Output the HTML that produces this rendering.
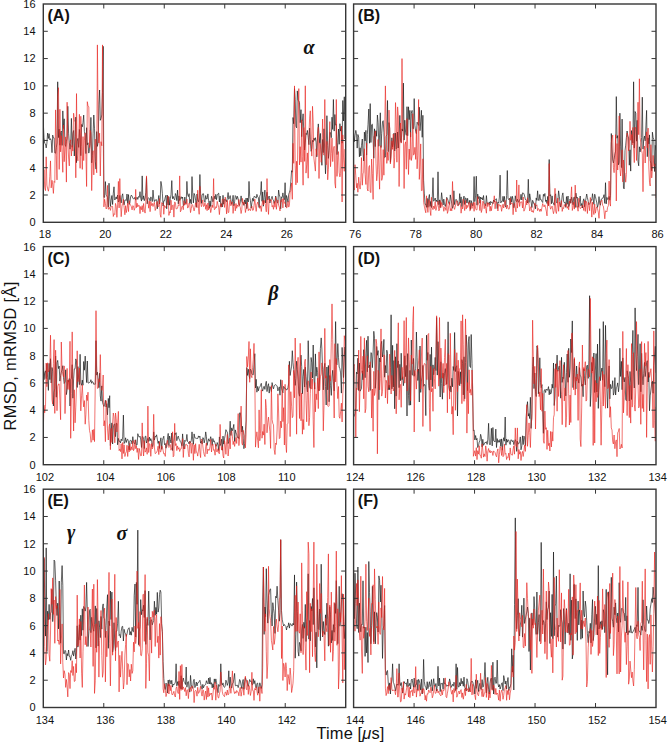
<!DOCTYPE html>
<html><head><meta charset="utf-8"><style>
html,body{margin:0;padding:0;background:#fff;}
body{width:668px;height:743px;overflow:hidden;}
svg{display:block;}
.tl{font-family:"Liberation Sans",sans-serif;font-size:11px;fill:#111;}
.pl{font-family:"Liberation Sans",sans-serif;font-size:16px;font-weight:bold;fill:#111;}
.gk{font-family:"Liberation Serif",serif;font-size:20px;font-weight:bold;font-style:italic;fill:#111;}
.al{font-family:"Liberation Sans",sans-serif;font-size:16.4px;fill:#111;}
.xl{letter-spacing:0.15px;}
.yl{letter-spacing:0.35px;}
</style></head><body>
<svg width="668" height="743" viewBox="0 0 668 743">
<clipPath id="cA"><rect x="43.3" y="4.0" width="302.4" height="218.3"/></clipPath>
<polyline clip-path="url(#cA)" points="43.3,122.7 44.0,137.8 44.7,143.3 45.5,143.9 46.2,147.9 46.9,143.2 47.6,133.1 48.4,138.5 49.1,133.7 49.8,139.9 50.5,138.7 51.2,140.3 52.0,152.7 52.7,135.1 53.4,137.8 54.1,137.9 54.8,152.9 55.6,153.2 56.3,147.6 57.0,143.0 57.7,81.8 58.5,137.6 59.2,129.1 59.9,145.2 60.6,132.3 61.3,131.0 62.1,145.4 62.8,110.9 63.5,128.5 64.2,118.8 65.0,144.9 65.7,146.4 66.4,141.4 67.1,138.4 67.8,106.3 68.6,133.2 69.3,142.7 70.0,149.2 70.7,143.7 71.4,118.4 72.2,147.3 72.9,133.3 73.6,130.5 74.3,156.0 75.1,136.3 75.8,117.1 76.5,162.7 77.2,141.1 77.9,138.4 78.7,147.4 79.4,129.4 80.1,137.8 80.8,155.7 81.6,124.4 82.3,126.8 83.0,122.6 83.7,115.1 84.4,131.5 85.2,135.2 85.9,153.6 86.6,127.7 87.3,144.8 88.0,142.8 88.8,153.1 89.5,149.4 90.2,143.8 90.9,117.4 91.7,162.9 92.4,155.6 93.1,133.4 93.8,115.0 94.5,128.2 95.3,161.2 96.0,169.1 96.7,131.6 97.4,146.4 98.2,141.7 98.9,104.2 99.6,90.0 100.3,120.3 101.0,118.6 101.8,114.9 102.5,92.2 103.2,46.3 103.9,197.4 104.6,197.3 105.4,181.6 106.1,194.5 106.8,195.8 107.5,197.4 108.3,207.1 109.0,183.2 109.7,196.2 110.4,206.5 111.1,200.2 111.9,195.5 112.6,204.5 113.3,193.2 114.0,186.8 114.8,200.0 115.5,198.2 116.2,196.9 116.9,199.0 117.6,195.0 118.4,202.0 119.1,201.1 119.8,195.4 120.5,199.3 121.2,202.9 122.0,195.8 122.7,193.8 123.4,201.2 124.1,204.8 124.9,200.0 125.6,200.0 126.3,200.6 127.0,194.0 127.7,203.4 128.5,194.6 129.2,204.4 129.9,202.5 130.6,197.0 131.3,195.1 132.1,196.1 132.8,198.1 133.5,198.9 134.2,198.9 135.0,197.2 135.7,200.1 136.4,198.4 137.1,197.2 137.8,199.4 138.6,196.5 139.3,197.3 140.0,191.7 140.7,198.2 141.5,201.1 142.2,175.9 142.9,199.5 143.6,195.9 144.3,200.7 145.1,198.0 145.8,192.3 146.5,177.3 147.2,203.8 147.9,198.5 148.7,197.9 149.4,198.5 150.1,201.1 150.8,196.9 151.6,198.4 152.3,201.5 153.0,190.1 153.7,198.1 154.4,201.6 155.2,199.8 155.9,200.3 156.6,199.7 157.3,208.8 158.1,201.3 158.8,195.5 159.5,204.0 160.2,199.7 160.9,181.4 161.7,186.0 162.4,193.7 163.1,206.0 163.8,200.8 164.5,200.8 165.3,197.0 166.0,195.2 166.7,208.8 167.4,195.2 168.2,205.0 168.9,196.8 169.6,205.2 170.3,198.8 171.0,194.8 171.8,180.6 172.5,198.7 173.2,196.4 173.9,198.9 174.7,199.8 175.4,193.5 176.1,195.4 176.8,200.6 177.5,190.1 178.3,203.9 179.0,195.9 179.7,200.5 180.4,198.9 181.1,196.7 181.9,198.6 182.6,197.0 183.3,205.4 184.0,205.3 184.8,197.1 185.5,203.2 186.2,203.4 186.9,181.4 187.6,194.5 188.4,196.6 189.1,193.7 189.8,203.1 190.5,199.4 191.3,203.9 192.0,176.6 192.7,193.3 193.4,202.9 194.1,193.4 194.9,195.6 195.6,200.1 196.3,207.1 197.0,194.0 197.7,199.8 198.5,201.8 199.2,197.9 199.9,174.5 200.6,193.7 201.4,203.4 202.1,195.1 202.8,193.7 203.5,193.8 204.2,200.1 205.0,202.3 205.7,195.5 206.4,199.0 207.1,199.0 207.9,193.9 208.6,200.5 209.3,208.3 210.0,200.9 210.7,206.6 211.5,196.3 212.2,198.2 212.9,201.8 213.6,199.5 214.3,196.2 215.1,199.1 215.8,194.3 216.5,199.7 217.2,195.4 218.0,193.7 218.7,193.2 219.4,202.0 220.1,196.0 220.8,206.7 221.6,203.6 222.3,207.0 223.0,195.3 223.7,204.2 224.5,199.5 225.2,200.2 225.9,199.6 226.6,201.7 227.3,198.5 228.1,192.5 228.8,199.3 229.5,197.4 230.2,195.6 230.9,200.2 231.7,204.3 232.4,201.6 233.1,195.3 233.8,205.8 234.6,201.8 235.3,195.6 236.0,196.4 236.7,199.4 237.4,196.3 238.2,198.8 238.9,204.0 239.6,205.5 240.3,201.9 241.1,195.9 241.8,201.6 242.5,202.9 243.2,202.4 243.9,205.4 244.7,199.9 245.4,204.0 246.1,198.0 246.8,208.6 247.5,198.2 248.3,201.9 249.0,181.4 249.7,196.6 250.4,200.5 251.2,208.1 251.9,202.8 252.6,198.3 253.3,201.2 254.0,196.4 254.8,196.6 255.5,196.9 256.2,198.2 256.9,194.3 257.7,196.9 258.4,197.7 259.1,207.5 259.8,196.0 260.5,194.4 261.3,181.5 262.0,201.3 262.7,191.9 263.4,206.2 264.1,197.6 264.9,190.1 265.6,203.0 266.3,196.8 267.0,192.2 267.8,199.9 268.5,197.3 269.2,196.0 269.9,203.0 270.6,199.8 271.4,198.3 272.1,196.3 272.8,199.6 273.5,200.2 274.2,203.4 275.0,200.8 275.7,196.0 276.4,199.1 277.1,202.7 277.9,202.7 278.6,190.1 279.3,195.0 280.0,197.0 280.7,208.8 281.5,197.0 282.2,197.6 282.9,192.9 283.6,197.8 284.4,199.7 285.1,182.7 285.8,207.0 286.5,195.5 287.2,198.2 288.0,202.2 288.7,194.3 289.4,192.4 290.1,189.9 290.8,181.8 291.6,170.7 292.3,172.2 293.0,117.5 293.7,123.8 294.5,88.6 295.2,99.6 295.9,126.2 296.6,127.8 297.3,90.9 298.1,100.2 298.8,100.9 299.5,102.6 300.2,122.7 301.0,109.7 301.7,136.7 302.4,121.3 303.1,113.8 303.8,132.2 304.6,150.0 305.3,142.1 306.0,133.3 306.7,134.5 307.4,130.4 308.2,137.2 308.9,144.7 309.6,128.1 310.3,139.7 311.1,151.3 311.8,148.6 312.5,140.4 313.2,141.9 313.9,138.0 314.7,140.4 315.4,137.7 316.1,142.2 316.8,156.9 317.6,133.8 318.3,123.9 319.0,133.6 319.7,142.9 320.4,133.4 321.2,153.1 321.9,165.3 322.6,139.5 323.3,152.6 324.0,128.8 324.8,154.6 325.5,173.8 326.2,154.1 326.9,115.7 327.7,145.4 328.4,158.4 329.1,150.4 329.8,132.3 330.5,132.7 331.3,137.7 332.0,117.2 332.7,129.4 333.4,99.5 334.2,131.1 334.9,114.5 335.6,125.2 336.3,124.4 337.0,154.6 337.8,142.4 338.5,129.0 339.2,144.3 339.9,123.7 340.6,131.1 341.4,126.2 342.1,143.2 342.8,100.5 343.5,121.0 344.3,96.8 345.0,139.0 345.7,99.8" fill="none" stroke="#111" stroke-width="0.65" stroke-linejoin="round"/>
<polyline clip-path="url(#cA)" points="43.3,185.8 44.0,169.5 44.7,187.5 45.5,190.6 46.2,156.8 46.9,185.1 47.6,188.7 48.4,191.2 49.1,186.5 49.8,176.5 50.5,160.9 51.2,187.9 52.0,180.3 52.7,184.9 53.4,193.4 54.1,181.4 54.8,182.4 55.6,109.9 56.3,155.8 57.0,179.9 57.7,95.4 58.5,87.7 59.2,169.4 59.9,109.3 60.6,151.9 61.3,135.7 62.1,152.6 62.8,172.3 63.5,124.9 64.2,161.7 65.0,147.0 65.7,136.9 66.4,182.1 67.1,102.2 67.8,140.1 68.6,158.0 69.3,165.9 70.0,142.9 70.7,139.8 71.4,156.0 72.2,145.4 72.9,151.1 73.6,113.2 74.3,119.4 75.1,122.5 75.8,177.8 76.5,93.6 77.2,154.9 77.9,160.8 78.7,139.4 79.4,114.3 80.1,168.3 80.8,116.3 81.6,146.4 82.3,169.4 83.0,136.6 83.7,160.6 84.4,140.2 85.2,132.9 85.9,153.7 86.6,186.5 87.3,101.7 88.0,106.0 88.8,106.8 89.5,147.6 90.2,130.4 90.9,133.0 91.7,190.6 92.4,160.4 93.1,150.7 93.8,174.9 94.5,149.9 95.3,139.1 96.0,161.0 96.7,172.8 97.4,44.9 98.2,125.3 98.9,143.0 99.6,133.2 100.3,176.0 101.0,141.7 101.8,145.8 102.5,44.9 103.2,128.5 103.9,206.9 104.6,199.3 105.4,203.4 106.1,209.0 106.8,208.2 107.5,185.4 108.3,209.2 109.0,208.9 109.7,207.4 110.4,210.4 111.1,206.7 111.9,206.2 112.6,206.3 113.3,216.5 114.0,213.7 114.8,214.5 115.5,203.4 116.2,206.1 116.9,217.3 117.6,204.9 118.4,181.4 119.1,207.9 119.8,178.6 120.5,201.9 121.2,216.7 122.0,206.2 122.7,203.4 123.4,199.3 124.1,207.2 124.9,214.8 125.6,205.7 126.3,212.6 127.0,208.4 127.7,203.2 128.5,211.6 129.2,200.7 129.9,204.0 130.6,205.2 131.3,206.5 132.1,209.9 132.8,205.5 133.5,206.2 134.2,210.3 135.0,207.9 135.7,189.4 136.4,207.7 137.1,203.2 137.8,206.9 138.6,204.9 139.3,205.6 140.0,213.6 140.7,206.5 141.5,209.7 142.2,205.6 142.9,211.9 143.6,203.5 144.3,210.0 145.1,213.1 145.8,202.9 146.5,175.9 147.2,200.5 147.9,200.8 148.7,208.2 149.4,201.1 150.1,211.7 150.8,201.4 151.6,205.6 152.3,203.4 153.0,206.5 153.7,204.1 154.4,202.3 155.2,210.5 155.9,208.7 156.6,202.7 157.3,201.4 158.1,206.9 158.8,205.7 159.5,198.6 160.2,214.3 160.9,217.3 161.7,202.6 162.4,203.6 163.1,203.0 163.8,214.3 164.5,205.5 165.3,207.3 166.0,207.2 166.7,204.5 167.4,202.2 168.2,196.0 168.9,215.4 169.6,211.7 170.3,212.8 171.0,200.2 171.8,209.9 172.5,205.5 173.2,204.8 173.9,217.1 174.7,201.9 175.4,202.9 176.1,208.9 176.8,208.7 177.5,208.3 178.3,204.8 179.0,205.6 179.7,175.9 180.4,211.8 181.1,210.4 181.9,206.4 182.6,206.0 183.3,209.7 184.0,200.7 184.8,205.1 185.5,203.1 186.2,204.3 186.9,199.1 187.6,208.1 188.4,207.1 189.1,203.0 189.8,204.0 190.5,212.6 191.3,208.6 192.0,204.4 192.7,205.2 193.4,208.1 194.1,210.9 194.9,207.4 195.6,202.9 196.3,202.9 197.0,207.7 197.7,190.2 198.5,208.3 199.2,214.3 199.9,186.3 200.6,202.4 201.4,206.7 202.1,204.3 202.8,199.9 203.5,206.5 204.2,206.1 205.0,202.8 205.7,209.3 206.4,204.7 207.1,210.7 207.9,203.0 208.6,209.9 209.3,206.2 210.0,206.0 210.7,212.6 211.5,208.6 212.2,205.0 212.9,207.6 213.6,178.6 214.3,209.6 215.1,209.1 215.8,206.7 216.5,207.7 217.2,201.4 218.0,204.7 218.7,207.6 219.4,214.6 220.1,206.1 220.8,203.7 221.6,207.2 222.3,199.2 223.0,199.0 223.7,201.6 224.5,207.4 225.2,197.1 225.9,203.3 226.6,213.9 227.3,200.4 228.1,212.6 228.8,212.3 229.5,202.5 230.2,200.1 230.9,205.8 231.7,202.2 232.4,201.9 233.1,213.4 233.8,205.3 234.6,203.8 235.3,210.9 236.0,203.5 236.7,208.3 237.4,205.1 238.2,206.5 238.9,199.5 239.6,205.6 240.3,207.4 241.1,213.5 241.8,209.5 242.5,198.4 243.2,204.6 243.9,202.2 244.7,202.6 245.4,212.5 246.1,208.5 246.8,208.2 247.5,202.3 248.3,210.7 249.0,208.9 249.7,209.2 250.4,210.7 251.2,207.5 251.9,206.2 252.6,210.4 253.3,210.1 254.0,205.9 254.8,199.1 255.5,205.7 256.2,211.4 256.9,204.5 257.7,202.1 258.4,204.8 259.1,205.2 259.8,208.4 260.5,205.8 261.3,211.5 262.0,204.7 262.7,200.5 263.4,205.0 264.1,200.4 264.9,203.1 265.6,205.7 266.3,211.8 267.0,178.6 267.8,204.9 268.5,214.4 269.2,199.1 269.9,200.9 270.6,200.0 271.4,199.4 272.1,206.8 272.8,205.5 273.5,209.3 274.2,201.5 275.0,207.2 275.7,197.1 276.4,209.3 277.1,202.6 277.9,199.9 278.6,205.1 279.3,207.3 280.0,211.0 280.7,200.6 281.5,201.5 282.2,198.7 282.9,207.9 283.6,198.6 284.4,203.4 285.1,202.5 285.8,204.0 286.5,208.1 287.2,207.0 288.0,201.4 288.7,207.1 289.4,205.5 290.1,192.9 290.8,190.3 291.6,182.9 292.3,199.3 293.0,143.3 293.7,163.3 294.5,85.9 295.2,165.6 295.9,184.9 296.6,161.2 297.3,182.7 298.1,115.9 298.8,88.6 299.5,164.9 300.2,146.7 301.0,162.1 301.7,119.9 302.4,156.8 303.1,185.2 303.8,127.6 304.6,161.4 305.3,85.8 306.0,173.1 306.7,164.8 307.4,152.9 308.2,178.2 308.9,136.9 309.6,118.1 310.3,110.8 311.1,141.5 311.8,156.1 312.5,106.3 313.2,122.1 313.9,158.2 314.7,164.9 315.4,171.1 316.1,148.8 316.8,155.4 317.6,134.8 318.3,127.3 319.0,178.5 319.7,142.9 320.4,144.8 321.2,162.3 321.9,150.2 322.6,119.1 323.3,153.6 324.0,155.2 324.8,99.5 325.5,146.0 326.2,164.8 326.9,141.4 327.7,179.8 328.4,169.6 329.1,145.4 329.8,121.6 330.5,166.7 331.3,153.3 332.0,138.1 332.7,161.6 333.4,148.7 334.2,146.3 334.9,183.1 335.6,188.1 336.3,99.5 337.0,176.4 337.8,155.7 338.5,151.6 339.2,172.1 339.9,176.9 340.6,173.4 341.4,126.1 342.1,202.0 342.8,134.9 343.5,157.1 344.3,171.3 345.0,149.2 345.7,159.1" fill="none" stroke="#e8231f" stroke-opacity="0.9" stroke-width="0.7" stroke-linejoin="round"/>
<clipPath id="cB"><rect x="353.6" y="4.0" width="302.4" height="218.3"/></clipPath>
<polyline clip-path="url(#cB)" points="353.6,132.9 354.3,141.7 355.0,135.7 355.8,130.4 356.5,133.7 357.2,148.1 357.9,134.5 358.7,137.1 359.4,156.8 360.1,147.8 360.8,155.9 361.5,145.4 362.3,139.0 363.0,153.1 363.7,161.0 364.4,132.1 365.1,140.9 365.9,130.4 366.6,155.1 367.3,134.4 368.0,124.7 368.8,109.0 369.5,143.2 370.2,103.6 370.9,142.5 371.6,124.8 372.4,124.2 373.1,139.1 373.8,158.2 374.5,128.8 375.3,146.6 376.0,130.6 376.7,136.3 377.4,115.0 378.1,122.6 378.9,146.3 379.6,135.0 380.3,112.8 381.0,147.5 381.7,133.6 382.5,121.8 383.2,120.7 383.9,132.3 384.6,157.7 385.4,157.0 386.1,136.6 386.8,134.4 387.5,100.5 388.2,151.7 389.0,122.6 389.7,128.4 390.4,162.3 391.1,151.2 391.9,137.8 392.6,146.9 393.3,142.5 394.0,133.1 394.7,151.0 395.5,133.1 396.2,148.8 396.9,147.6 397.6,132.0 398.3,148.0 399.1,135.9 399.8,115.4 400.5,140.0 401.2,142.4 402.0,128.9 402.7,131.1 403.4,83.1 404.1,140.1 404.8,120.2 405.6,132.5 406.3,135.3 407.0,106.7 407.7,135.8 408.5,106.8 409.2,119.7 409.9,110.4 410.6,137.1 411.3,113.4 412.1,110.4 412.8,128.6 413.5,128.7 414.2,98.6 414.9,125.4 415.7,131.6 416.4,133.7 417.1,122.2 417.8,123.6 418.6,125.4 419.3,107.2 420.0,130.7 420.7,121.9 421.4,110.3 422.2,137.3 422.9,115.3 423.6,180.2 424.3,193.1 425.1,204.4 425.8,204.1 426.5,207.3 427.2,198.4 427.9,207.3 428.7,198.2 429.4,194.5 430.1,206.4 430.8,201.4 431.5,207.5 432.3,197.1 433.0,177.7 433.7,201.2 434.4,199.9 435.2,198.0 435.9,201.5 436.6,200.1 437.3,202.2 438.0,171.8 438.8,204.7 439.5,199.9 440.2,207.6 440.9,202.0 441.6,192.7 442.4,199.8 443.1,205.0 443.8,199.1 444.5,203.9 445.3,206.5 446.0,203.0 446.7,197.3 447.4,198.6 448.1,200.5 448.9,203.7 449.6,204.3 450.3,194.9 451.0,199.2 451.8,203.8 452.5,208.3 453.2,205.4 453.9,190.8 454.6,204.6 455.4,200.4 456.1,199.3 456.8,200.7 457.5,201.2 458.2,205.4 459.0,204.2 459.7,193.6 460.4,203.1 461.1,196.9 461.9,206.7 462.6,201.2 463.3,199.1 464.0,196.1 464.7,204.5 465.5,197.8 466.2,198.6 466.9,203.0 467.6,198.3 468.4,203.6 469.1,203.2 469.8,200.2 470.5,209.4 471.2,200.6 472.0,204.0 472.7,205.8 473.4,201.8 474.1,176.5 474.8,201.7 475.6,195.2 476.3,176.2 477.0,205.2 477.7,194.1 478.5,198.6 479.2,196.5 479.9,203.3 480.6,197.0 481.3,199.1 482.1,197.6 482.8,200.0 483.5,195.5 484.2,202.6 485.0,203.9 485.7,205.8 486.4,195.6 487.1,203.0 487.8,204.2 488.6,203.8 489.3,201.9 490.0,205.0 490.7,201.3 491.4,202.6 492.2,202.3 492.9,203.8 493.6,200.0 494.3,201.9 495.1,199.7 495.8,199.2 496.5,198.8 497.2,208.6 497.9,202.2 498.7,203.2 499.4,197.1 500.1,175.1 500.8,202.9 501.6,201.3 502.3,201.4 503.0,196.3 503.7,201.8 504.4,196.4 505.2,205.8 505.9,207.1 506.6,195.4 507.3,170.5 508.0,198.2 508.8,199.7 509.5,198.3 510.2,204.8 510.9,196.5 511.7,202.2 512.4,196.3 513.1,199.8 513.8,207.8 514.5,205.1 515.3,195.8 516.0,200.7 516.7,201.7 517.4,199.2 518.2,201.8 518.9,202.2 519.6,199.7 520.3,199.6 521.0,194.3 521.8,200.0 522.5,192.9 523.2,193.2 523.9,193.5 524.6,196.0 525.4,199.6 526.1,199.6 526.8,200.7 527.5,203.0 528.3,179.3 529.0,202.6 529.7,193.8 530.4,198.1 531.1,201.9 531.9,207.5 532.6,200.3 533.3,201.7 534.0,204.3 534.8,204.5 535.5,208.8 536.2,197.9 536.9,200.4 537.6,190.8 538.4,200.2 539.1,200.7 539.8,194.5 540.5,199.6 541.2,199.5 542.0,201.6 542.7,202.5 543.4,194.3 544.1,196.3 544.9,193.5 545.6,201.5 546.3,200.0 547.0,203.5 547.7,196.4 548.5,205.5 549.2,159.5 549.9,195.9 550.6,194.7 551.4,203.8 552.1,195.9 552.8,202.9 553.5,203.1 554.2,205.2 555.0,195.7 555.7,193.8 556.4,202.4 557.1,203.1 557.8,201.4 558.6,190.8 559.3,196.2 560.0,202.2 560.7,207.1 561.5,202.7 562.2,195.5 562.9,192.9 563.6,201.2 564.3,202.8 565.1,202.1 565.8,207.4 566.5,196.6 567.2,204.3 568.0,196.0 568.7,206.7 569.4,205.0 570.1,199.0 570.8,203.1 571.6,197.1 572.3,200.1 573.0,204.7 573.7,197.7 574.4,196.9 575.2,207.5 575.9,193.1 576.6,198.2 577.3,197.2 578.1,207.3 578.8,202.9 579.5,201.5 580.2,196.0 580.9,205.8 581.7,203.5 582.4,208.0 583.1,201.1 583.8,198.8 584.5,206.7 585.3,202.4 586.0,198.2 586.7,194.0 587.4,197.6 588.2,201.3 588.9,204.7 589.6,203.8 590.3,202.7 591.0,199.6 591.8,200.3 592.5,193.7 593.2,199.0 593.9,204.3 594.7,194.2 595.4,196.5 596.1,199.7 596.8,202.9 597.5,207.4 598.3,204.1 599.0,196.6 599.7,203.2 600.4,205.2 601.1,199.4 601.9,199.2 602.6,197.8 603.3,197.6 604.0,194.7 604.8,203.4 605.5,182.7 606.2,203.9 606.9,197.4 607.6,199.4 608.4,199.2 609.1,196.4 609.8,200.2 610.5,195.8 611.3,133.5 612.0,148.0 612.7,160.0 613.4,163.0 614.1,159.3 614.9,154.0 615.6,151.1 616.3,96.6 617.0,138.2 617.7,135.6 618.5,164.8 619.2,162.3 619.9,113.2 620.6,146.9 621.4,167.6 622.1,119.1 622.8,159.9 623.5,188.2 624.2,188.9 625.0,150.8 625.7,145.2 626.4,137.4 627.1,131.0 627.9,136.1 628.6,137.9 629.3,165.2 630.0,149.8 630.7,171.1 631.5,130.6 632.2,135.6 632.9,143.0 633.6,81.8 634.3,148.1 635.1,111.5 635.8,113.3 636.5,141.2 637.2,120.3 638.0,161.2 638.7,165.8 639.4,146.8 640.1,151.9 640.8,147.8 641.6,137.5 642.3,97.2 643.0,149.1 643.7,139.7 644.5,136.1 645.2,140.9 645.9,125.9 646.6,110.4 647.3,156.7 648.1,137.9 648.8,143.9 649.5,134.9 650.2,160.5 650.9,163.5 651.7,170.8 652.4,132.2 653.1,137.4 653.8,139.3 654.6,171.5 655.3,145.3 656.0,150.3" fill="none" stroke="#111" stroke-width="0.65" stroke-linejoin="round"/>
<polyline clip-path="url(#cB)" points="353.6,183.9 354.3,190.1 355.0,164.7 355.8,175.8 356.5,187.8 357.2,183.3 357.9,192.2 358.7,177.2 359.4,185.2 360.1,189.1 360.8,180.5 361.5,157.6 362.3,185.2 363.0,173.8 363.7,172.3 364.4,148.7 365.1,174.6 365.9,184.5 366.6,143.0 367.3,188.9 368.0,191.0 368.8,167.3 369.5,165.5 370.2,192.0 370.9,192.7 371.6,159.0 372.4,173.7 373.1,199.4 373.8,136.7 374.5,135.9 375.3,131.0 376.0,163.4 376.7,180.8 377.4,174.2 378.1,139.5 378.9,169.3 379.6,189.2 380.3,147.4 381.0,145.6 381.7,180.4 382.5,177.4 383.2,149.6 383.9,175.2 384.6,136.4 385.4,85.9 386.1,124.2 386.8,163.4 387.5,152.3 388.2,160.4 389.0,110.1 389.7,130.3 390.4,163.9 391.1,157.2 391.9,140.9 392.6,149.4 393.3,134.0 394.0,168.1 394.7,157.3 395.5,102.6 396.2,119.2 396.9,162.2 397.6,106.9 398.3,115.8 399.1,186.5 399.8,139.1 400.5,123.0 401.2,143.1 402.0,58.6 402.7,118.0 403.4,137.3 404.1,188.5 404.8,145.0 405.6,141.8 406.3,169.2 407.0,118.6 407.7,146.1 408.5,174.5 409.2,149.0 409.9,159.6 410.6,132.3 411.3,160.5 412.1,155.8 412.8,113.7 413.5,155.0 414.2,154.4 414.9,147.3 415.7,159.4 416.4,129.6 417.1,168.8 417.8,155.2 418.6,99.5 419.3,179.4 420.0,166.2 420.7,143.9 421.4,190.6 422.2,190.4 422.9,158.8 423.6,202.4 424.3,206.1 425.1,210.0 425.8,212.8 426.5,195.8 427.2,204.7 427.9,212.4 428.7,199.5 429.4,200.8 430.1,210.6 430.8,215.5 431.5,197.3 432.3,207.9 433.0,209.7 433.7,206.0 434.4,208.7 435.2,201.7 435.9,210.4 436.6,207.4 437.3,204.5 438.0,201.1 438.8,210.9 439.5,210.0 440.2,200.5 440.9,207.6 441.6,202.5 442.4,206.0 443.1,206.3 443.8,211.3 444.5,207.4 445.3,207.7 446.0,210.4 446.7,198.6 447.4,213.4 448.1,211.0 448.9,205.4 449.6,202.0 450.3,210.8 451.0,208.5 451.8,210.9 452.5,181.5 453.2,201.0 453.9,207.4 454.6,209.4 455.4,206.0 456.1,202.8 456.8,200.6 457.5,205.6 458.2,205.9 459.0,204.5 459.7,202.2 460.4,204.4 461.1,213.2 461.9,206.7 462.6,208.9 463.3,199.1 464.0,206.6 464.7,210.6 465.5,200.5 466.2,209.1 466.9,205.0 467.6,207.5 468.4,205.1 469.1,202.1 469.8,210.9 470.5,210.3 471.2,203.0 472.0,208.5 472.7,206.2 473.4,202.4 474.1,211.3 474.8,202.3 475.6,208.6 476.3,209.9 477.0,209.8 477.7,196.6 478.5,204.3 479.2,204.7 479.9,210.6 480.6,200.2 481.3,212.5 482.1,209.4 482.8,201.2 483.5,201.9 484.2,208.7 485.0,203.9 485.7,208.4 486.4,213.2 487.1,202.4 487.8,206.6 488.6,203.2 489.3,203.4 490.0,211.2 490.7,206.3 491.4,210.7 492.2,205.2 492.9,203.3 493.6,202.3 494.3,195.8 495.1,208.8 495.8,201.3 496.5,202.9 497.2,203.4 497.9,211.0 498.7,204.1 499.4,205.0 500.1,206.3 500.8,205.2 501.6,211.3 502.3,207.2 503.0,204.2 503.7,208.0 504.4,203.8 505.2,200.4 505.9,205.8 506.6,208.8 507.3,205.0 508.0,207.9 508.8,209.3 509.5,208.4 510.2,198.3 510.9,203.7 511.7,203.6 512.4,202.8 513.1,214.7 513.8,204.9 514.5,203.5 515.3,208.1 516.0,211.9 516.7,180.0 517.4,208.1 518.2,201.9 518.9,184.9 519.6,206.5 520.3,202.1 521.0,202.2 521.8,201.8 522.5,208.0 523.2,197.0 523.9,211.2 524.6,209.7 525.4,207.1 526.1,200.7 526.8,205.0 527.5,197.8 528.3,203.2 529.0,203.3 529.7,211.0 530.4,208.3 531.1,206.6 531.9,212.0 532.6,210.7 533.3,212.5 534.0,209.1 534.8,202.9 535.5,204.7 536.2,205.8 536.9,204.8 537.6,210.7 538.4,208.5 539.1,209.3 539.8,211.5 540.5,209.0 541.2,211.3 542.0,207.3 542.7,203.5 543.4,205.6 544.1,206.9 544.9,204.8 545.6,208.1 546.3,211.1 547.0,215.9 547.7,201.3 548.5,205.7 549.2,163.6 549.9,205.7 550.6,209.2 551.4,207.5 552.1,206.1 552.8,210.3 553.5,213.7 554.2,210.2 555.0,188.3 555.7,211.3 556.4,213.5 557.1,207.2 557.8,198.0 558.6,211.3 559.3,201.9 560.0,206.3 560.7,205.1 561.5,200.6 562.2,211.4 562.9,207.6 563.6,208.6 564.3,204.5 565.1,206.6 565.8,206.0 566.5,203.4 567.2,208.3 568.0,206.4 568.7,209.8 569.4,201.0 570.1,203.4 570.8,199.0 571.6,186.8 572.3,210.5 573.0,207.4 573.7,202.2 574.4,209.1 575.2,185.1 575.9,198.2 576.6,207.2 577.3,206.6 578.1,211.2 578.8,198.2 579.5,204.8 580.2,208.5 580.9,208.2 581.7,207.2 582.4,205.0 583.1,206.4 583.8,210.5 584.5,200.4 585.3,211.4 586.0,201.0 586.7,203.5 587.4,213.5 588.2,202.4 588.9,205.4 589.6,210.7 590.3,197.5 591.0,201.1 591.8,217.1 592.5,202.2 593.2,210.1 593.9,214.6 594.7,204.0 595.4,213.2 596.1,208.8 596.8,206.8 597.5,208.9 598.3,212.1 599.0,218.3 599.7,208.1 600.4,201.7 601.1,201.5 601.9,200.1 602.6,205.3 603.3,206.0 604.0,210.8 604.8,218.8 605.5,210.9 606.2,211.2 606.9,211.9 607.6,207.3 608.4,205.6 609.1,181.1 609.8,203.4 610.5,206.1 611.3,143.0 612.0,138.6 612.7,135.1 613.4,167.3 614.1,172.7 614.9,159.5 615.6,134.7 616.3,201.0 617.0,143.6 617.7,170.0 618.5,146.2 619.2,115.9 619.9,167.6 620.6,176.0 621.4,167.3 622.1,149.9 622.8,181.9 623.5,160.0 624.2,172.0 625.0,173.2 625.7,182.2 626.4,174.4 627.1,133.0 627.9,136.9 628.6,150.8 629.3,146.9 630.0,121.3 630.7,140.3 631.5,134.6 632.2,144.9 632.9,127.5 633.6,148.8 634.3,162.6 635.1,127.0 635.8,129.2 636.5,160.5 637.2,138.2 638.0,102.2 638.7,134.7 639.4,78.8 640.1,137.6 640.8,142.5 641.6,150.6 642.3,153.6 643.0,191.7 643.7,151.0 644.5,146.1 645.2,163.0 645.9,140.8 646.6,131.8 647.3,147.8 648.1,128.1 648.8,166.9 649.5,182.3 650.2,186.0 650.9,144.7 651.7,177.9 652.4,169.2 653.1,155.4 653.8,166.3 654.6,165.8 655.3,163.7 656.0,198.0" fill="none" stroke="#e8231f" stroke-opacity="0.9" stroke-width="0.7" stroke-linejoin="round"/>
<clipPath id="cC"><rect x="43.3" y="246.6" width="302.4" height="218.1"/></clipPath>
<polyline clip-path="url(#cC)" points="43.3,355.6 44.0,379.7 44.7,372.8 45.5,370.8 46.2,378.7 46.9,363.7 47.6,377.6 48.4,390.4 49.1,363.3 49.8,379.6 50.5,358.7 51.2,383.0 52.0,367.5 52.7,371.1 53.4,406.0 54.1,392.6 54.8,388.3 55.6,356.0 56.3,397.2 57.0,362.8 57.7,360.4 58.5,368.6 59.2,366.1 59.9,381.1 60.6,375.5 61.3,372.3 62.1,369.6 62.8,365.7 63.5,377.8 64.2,383.5 65.0,381.9 65.7,369.8 66.4,394.6 67.1,389.9 67.8,380.2 68.6,381.8 69.3,378.5 70.0,406.0 70.7,379.3 71.4,378.3 72.2,364.7 72.9,398.2 73.6,378.9 74.3,368.9 75.1,368.7 75.8,358.9 76.5,360.9 77.2,387.5 77.9,366.6 78.7,379.3 79.4,384.7 80.1,354.3 80.8,382.7 81.6,385.3 82.3,380.1 83.0,385.2 83.7,361.5 84.4,370.2 85.2,356.1 85.9,369.7 86.6,382.5 87.3,361.0 88.0,383.0 88.8,383.0 89.5,382.5 90.2,382.1 90.9,379.7 91.7,383.3 92.4,381.5 93.1,382.3 93.8,384.4 94.5,384.1 95.3,384.2 96.0,340.7 96.7,375.1 97.4,372.2 98.2,380.0 98.9,387.6 99.6,373.2 100.3,396.0 101.0,401.1 101.8,385.9 102.5,402.4 103.2,404.5 103.9,406.5 104.6,404.8 105.4,400.3 106.1,407.0 106.8,403.7 107.5,414.9 108.3,398.4 109.0,407.7 109.7,395.7 110.4,445.6 111.1,431.4 111.9,422.9 112.6,444.0 113.3,427.9 114.0,424.3 114.8,424.2 115.5,436.7 116.2,423.1 116.9,423.8 117.6,444.8 118.4,438.4 119.1,441.4 119.8,441.1 120.5,442.9 121.2,439.1 122.0,440.8 122.7,436.9 123.4,415.1 124.1,443.5 124.9,442.0 125.6,437.8 126.3,442.5 127.0,439.8 127.7,439.2 128.5,441.9 129.2,449.9 129.9,440.7 130.6,440.4 131.3,440.7 132.1,444.0 132.8,436.7 133.5,441.7 134.2,443.5 135.0,443.9 135.7,439.8 136.4,445.3 137.1,444.9 137.8,433.7 138.6,436.3 139.3,437.2 140.0,436.1 140.7,439.0 141.5,447.5 142.2,436.7 142.9,436.6 143.6,439.4 144.3,448.5 145.1,436.5 145.8,436.1 146.5,443.0 147.2,440.7 147.9,438.3 148.7,441.5 149.4,437.1 150.1,440.9 150.8,438.6 151.6,440.9 152.3,446.7 153.0,444.9 153.7,431.9 154.4,440.1 155.2,436.3 155.9,436.9 156.6,434.8 157.3,439.1 158.1,443.4 158.8,441.1 159.5,448.4 160.2,441.9 160.9,437.8 161.7,449.3 162.4,440.4 163.1,438.1 163.8,436.2 164.5,444.7 165.3,443.6 166.0,448.2 166.7,445.0 167.4,439.2 168.2,433.4 168.9,445.5 169.6,436.0 170.3,439.6 171.0,443.0 171.8,433.0 172.5,450.5 173.2,441.4 173.9,440.4 174.7,433.2 175.4,434.4 176.1,432.7 176.8,440.7 177.5,437.5 178.3,436.1 179.0,439.3 179.7,439.8 180.4,441.9 181.1,442.7 181.9,445.8 182.6,433.9 183.3,442.9 184.0,449.0 184.8,440.2 185.5,441.3 186.2,440.5 186.9,434.4 187.6,441.6 188.4,442.2 189.1,444.0 189.8,441.3 190.5,442.8 191.3,440.4 192.0,431.9 192.7,439.7 193.4,444.4 194.1,433.9 194.9,437.9 195.6,438.1 196.3,438.5 197.0,438.1 197.7,438.6 198.5,435.9 199.2,437.4 199.9,436.1 200.6,443.1 201.4,441.2 202.1,443.9 202.8,437.6 203.5,438.1 204.2,442.9 205.0,439.0 205.7,431.9 206.4,436.5 207.1,445.4 207.9,441.5 208.6,438.8 209.3,441.3 210.0,439.7 210.7,436.7 211.5,440.0 212.2,445.3 212.9,438.5 213.6,441.6 214.3,440.8 215.1,443.3 215.8,446.4 216.5,445.9 217.2,442.5 218.0,445.2 218.7,450.5 219.4,436.9 220.1,445.6 220.8,443.9 221.6,439.2 222.3,450.3 223.0,436.1 223.7,444.1 224.5,438.7 225.2,435.1 225.9,429.7 226.6,431.2 227.3,432.0 228.1,443.6 228.8,441.4 229.5,432.2 230.2,421.2 230.9,435.5 231.7,427.9 232.4,430.7 233.1,428.3 233.8,424.4 234.6,441.5 235.3,429.9 236.0,433.1 236.7,434.0 237.4,437.4 238.2,437.0 238.9,438.6 239.6,412.9 240.3,412.8 241.1,419.0 241.8,431.9 242.5,426.3 243.2,438.2 243.9,448.7 244.7,443.6 245.4,430.9 246.1,421.0 246.8,367.6 247.5,375.4 248.3,369.2 249.0,375.4 249.7,378.6 250.4,369.1 251.2,370.5 251.9,373.9 252.6,374.5 253.3,374.8 254.0,364.9 254.8,353.7 255.5,388.0 256.2,379.3 256.9,392.2 257.7,386.4 258.4,390.8 259.1,387.8 259.8,387.0 260.5,385.3 261.3,383.3 262.0,389.0 262.7,391.1 263.4,387.9 264.1,386.3 264.9,389.4 265.6,384.1 266.3,381.3 267.0,391.6 267.8,386.0 268.5,383.7 269.2,393.1 269.9,386.6 270.6,388.0 271.4,391.6 272.1,382.6 272.8,386.6 273.5,388.8 274.2,385.7 275.0,385.0 275.7,384.6 276.4,385.3 277.1,385.9 277.9,390.9 278.6,388.6 279.3,386.9 280.0,395.2 280.7,379.7 281.5,388.5 282.2,390.5 282.9,392.8 283.6,386.4 284.4,387.2 285.1,389.1 285.8,388.6 286.5,390.0 287.2,389.6 288.0,387.6 288.7,383.0 289.4,361.3 290.1,375.5 290.8,371.0 291.6,366.2 292.3,350.7 293.0,362.7 293.7,369.3 294.5,375.8 295.2,385.4 295.9,378.5 296.6,361.2 297.3,369.3 298.1,379.1 298.8,393.2 299.5,396.2 300.2,367.6 301.0,355.1 301.7,366.7 302.4,393.8 303.1,376.5 303.8,369.4 304.6,387.0 305.3,367.2 306.0,376.4 306.7,385.8 307.4,391.9 308.2,340.7 308.9,367.0 309.6,386.6 310.3,388.5 311.1,357.5 311.8,362.8 312.5,377.9 313.2,345.0 313.9,377.7 314.7,389.1 315.4,353.9 316.1,376.2 316.8,367.2 317.6,372.7 318.3,388.3 319.0,391.0 319.7,376.3 320.4,348.4 321.2,337.9 321.9,349.2 322.6,369.5 323.3,389.9 324.0,368.6 324.8,363.3 325.5,386.7 326.2,405.0 326.9,367.0 327.7,389.9 328.4,365.5 329.1,401.8 329.8,375.5 330.5,385.4 331.3,395.4 332.0,377.0 332.7,370.3 333.4,381.7 334.2,390.9 334.9,369.6 335.6,321.6 336.3,363.9 337.0,364.7 337.8,343.6 338.5,357.7 339.2,367.1 339.9,368.7 340.6,372.9 341.4,393.1 342.1,347.4 342.8,364.0 343.5,377.6 344.3,355.6 345.0,347.0 345.7,363.9" fill="none" stroke="#111" stroke-width="0.65" stroke-linejoin="round"/>
<polyline clip-path="url(#cC)" points="43.3,429.0 44.0,405.2 44.7,412.8 45.5,406.6 46.2,363.0 46.9,386.7 47.6,362.8 48.4,371.9 49.1,370.4 49.8,368.3 50.5,335.2 51.2,373.3 52.0,399.8 52.7,404.1 53.4,363.6 54.1,339.6 54.8,413.4 55.6,350.2 56.3,372.6 57.0,410.7 57.7,386.4 58.5,384.0 59.2,383.9 59.9,400.5 60.6,419.7 61.3,342.0 62.1,371.8 62.8,373.7 63.5,376.8 64.2,365.9 65.0,413.6 65.7,394.0 66.4,384.7 67.1,368.4 67.8,389.3 68.6,380.3 69.3,389.8 70.0,341.3 70.7,438.3 71.4,393.6 72.2,331.9 72.9,387.3 73.6,431.0 74.3,389.8 75.1,422.8 75.8,407.2 76.5,387.6 77.2,350.8 77.9,381.7 78.7,376.6 79.4,368.0 80.1,388.2 80.8,410.9 81.6,395.2 82.3,384.8 83.0,398.9 83.7,406.9 84.4,400.6 85.2,424.2 85.9,414.3 86.6,395.0 87.3,400.6 88.0,392.2 88.8,420.4 89.5,430.6 90.2,433.6 90.9,442.4 91.7,441.7 92.4,429.9 93.1,440.1 93.8,429.4 94.5,441.6 95.3,380.7 96.0,310.7 96.7,366.2 97.4,388.4 98.2,388.1 98.9,378.8 99.6,382.0 100.3,354.6 101.0,386.5 101.8,390.4 102.5,387.4 103.2,375.0 103.9,425.9 104.6,420.7 105.4,441.7 106.1,400.6 106.8,407.8 107.5,428.9 108.3,440.0 109.0,426.8 109.7,423.9 110.4,449.7 111.1,428.4 111.9,442.5 112.6,423.4 113.3,413.0 114.0,416.9 114.8,442.8 115.5,413.0 116.2,418.3 116.9,432.0 117.6,422.9 118.4,411.4 119.1,450.6 119.8,449.1 120.5,451.6 121.2,443.7 122.0,458.9 122.7,442.5 123.4,453.5 124.1,444.8 124.9,456.5 125.6,453.3 126.3,451.8 127.0,445.2 127.7,456.5 128.5,446.2 129.2,451.9 129.9,443.3 130.6,450.5 131.3,446.8 132.1,449.8 132.8,440.8 133.5,450.7 134.2,449.1 135.0,439.9 135.7,448.7 136.4,445.9 137.1,452.4 137.8,448.1 138.6,459.5 139.3,448.5 140.0,452.0 140.7,455.9 141.5,455.5 142.2,422.9 142.9,447.1 143.6,456.0 144.3,440.7 145.1,452.2 145.8,450.7 146.5,447.9 147.2,454.3 147.9,406.1 148.7,452.5 149.4,443.6 150.1,444.6 150.8,456.3 151.6,443.5 152.3,448.9 153.0,446.7 153.7,414.3 154.4,447.1 155.2,453.6 155.9,453.2 156.6,452.3 157.3,450.7 158.1,446.2 158.8,454.6 159.5,441.7 160.2,451.9 160.9,451.7 161.7,445.8 162.4,447.0 163.1,450.6 163.8,454.0 164.5,453.6 165.3,456.4 166.0,443.8 166.7,444.0 167.4,440.4 168.2,446.7 168.9,447.5 169.6,445.5 170.3,444.6 171.0,450.2 171.8,447.4 172.5,431.8 173.2,456.8 173.9,455.5 174.7,423.4 175.4,445.6 176.1,443.6 176.8,450.6 177.5,445.9 178.3,449.2 179.0,447.6 179.7,451.5 180.4,449.1 181.1,449.0 181.9,443.8 182.6,438.7 183.3,457.4 184.0,446.6 184.8,449.0 185.5,444.6 186.2,444.1 186.9,445.4 187.6,445.3 188.4,453.4 189.1,456.9 189.8,441.3 190.5,443.5 191.3,453.4 192.0,443.1 192.7,446.0 193.4,460.3 194.1,444.9 194.9,453.6 195.6,443.7 196.3,452.2 197.0,452.4 197.7,456.1 198.5,450.0 199.2,444.3 199.9,452.1 200.6,457.6 201.4,439.1 202.1,440.5 202.8,445.8 203.5,451.5 204.2,454.6 205.0,456.6 205.7,446.5 206.4,443.0 207.1,453.9 207.9,449.0 208.6,450.3 209.3,450.2 210.0,446.7 210.7,439.4 211.5,452.0 212.2,445.1 212.9,444.0 213.6,450.3 214.3,449.7 215.1,455.2 215.8,444.1 216.5,451.5 217.2,452.0 218.0,448.7 218.7,453.0 219.4,453.8 220.1,424.4 220.8,442.2 221.6,450.0 222.3,446.6 223.0,455.8 223.7,458.0 224.5,440.6 225.2,444.3 225.9,454.3 226.6,441.8 227.3,434.5 228.1,456.0 228.8,448.6 229.5,438.1 230.2,448.9 230.9,432.5 231.7,430.8 232.4,436.2 233.1,444.6 233.8,441.3 234.6,446.4 235.3,442.0 236.0,437.5 236.7,443.5 237.4,430.6 238.2,413.6 238.9,445.6 239.6,437.2 240.3,432.2 241.1,406.1 241.8,442.9 242.5,445.1 243.2,430.3 243.9,434.3 244.7,435.5 245.4,447.9 246.1,434.2 246.8,356.5 247.5,366.9 248.3,358.1 249.0,341.5 249.7,382.3 250.4,348.8 251.2,375.9 251.9,377.7 252.6,367.3 253.3,359.2 254.0,343.4 254.8,375.8 255.5,447.1 256.2,437.9 256.9,431.8 257.7,440.7 258.4,447.8 259.1,409.9 259.8,440.8 260.5,433.6 261.3,389.7 262.0,438.2 262.7,431.5 263.4,435.1 264.1,424.2 264.9,444.5 265.6,399.3 266.3,407.4 267.0,432.8 267.8,422.3 268.5,417.1 269.2,425.0 269.9,431.5 270.6,448.4 271.4,385.6 272.1,419.6 272.8,423.4 273.5,424.8 274.2,449.5 275.0,454.5 275.7,443.1 276.4,444.5 277.1,430.0 277.9,393.8 278.6,412.0 279.3,438.6 280.0,437.9 280.7,421.1 281.5,427.8 282.2,380.2 282.9,421.6 283.6,407.7 284.4,445.0 285.1,384.3 285.8,443.4 286.5,452.5 287.2,424.1 288.0,423.2 288.7,364.8 289.4,379.5 290.1,436.6 290.8,391.7 291.6,406.2 292.3,417.7 293.0,416.1 293.7,370.4 294.5,397.8 295.2,338.0 295.9,378.4 296.6,434.2 297.3,366.9 298.1,357.3 298.8,390.2 299.5,418.5 300.2,343.3 301.0,420.8 301.7,393.0 302.4,434.2 303.1,419.5 303.8,429.6 304.6,361.6 305.3,359.2 306.0,400.3 306.7,421.8 307.4,392.5 308.2,380.8 308.9,425.7 309.6,417.3 310.3,393.4 311.1,372.0 311.8,389.1 312.5,378.9 313.2,419.4 313.9,447.5 314.7,382.6 315.4,411.9 316.1,393.9 316.8,399.7 317.6,378.1 318.3,408.6 319.0,351.9 319.7,390.2 320.4,376.7 321.2,374.0 321.9,362.9 322.6,380.1 323.3,430.8 324.0,405.4 324.8,328.4 325.5,378.2 326.2,375.8 326.9,378.4 327.7,405.7 328.4,406.5 329.1,405.8 329.8,359.6 330.5,381.2 331.3,342.7 332.0,303.9 332.7,339.6 333.4,378.6 334.2,418.0 334.9,343.7 335.6,381.9 336.3,358.6 337.0,385.2 337.8,398.6 338.5,386.5 339.2,416.7 339.9,418.3 340.6,411.4 341.4,403.1 342.1,422.0 342.8,393.4 343.5,382.8 344.3,335.7 345.0,340.9 345.7,392.2" fill="none" stroke="#e8231f" stroke-opacity="0.9" stroke-width="0.7" stroke-linejoin="round"/>
<clipPath id="cD"><rect x="353.6" y="246.6" width="302.4" height="218.1"/></clipPath>
<polyline clip-path="url(#cD)" points="353.6,417.0 354.3,415.7 355.0,413.9 355.8,407.6 356.5,372.2 357.2,373.9 357.9,358.2 358.7,390.5 359.4,363.1 360.1,391.2 360.8,389.8 361.5,388.7 362.3,370.9 363.0,379.8 363.7,349.7 364.4,365.0 365.1,377.7 365.9,353.9 366.6,340.3 367.3,371.8 368.0,336.2 368.8,367.7 369.5,365.0 370.2,390.5 370.9,352.5 371.6,353.2 372.4,367.7 373.1,353.0 373.8,331.3 374.5,338.4 375.3,388.3 376.0,377.8 376.7,346.5 377.4,355.3 378.1,350.6 378.9,399.7 379.6,358.0 380.3,362.0 381.0,344.7 381.7,341.3 382.5,357.0 383.2,351.5 383.9,339.4 384.6,377.2 385.4,365.5 386.1,373.0 386.8,350.2 387.5,353.3 388.2,389.9 389.0,385.2 389.7,389.8 390.4,367.7 391.1,314.8 391.9,388.9 392.6,345.3 393.3,387.0 394.0,360.6 394.7,408.8 395.5,356.8 396.2,396.1 396.9,343.7 397.6,367.6 398.3,360.9 399.1,387.7 399.8,364.3 400.5,380.7 401.2,353.2 402.0,379.7 402.7,376.8 403.4,385.7 404.1,378.2 404.8,355.8 405.6,376.7 406.3,365.4 407.0,416.0 407.7,353.6 408.5,395.4 409.2,405.3 409.9,370.4 410.6,405.1 411.3,340.0 412.1,374.4 412.8,375.3 413.5,358.4 414.2,376.3 414.9,371.2 415.7,368.3 416.4,332.0 417.1,357.7 417.8,380.5 418.6,369.0 419.3,402.0 420.0,346.0 420.7,392.4 421.4,381.1 422.2,374.9 422.9,365.4 423.6,386.3 424.3,384.5 425.1,384.8 425.8,415.6 426.5,335.2 427.2,360.3 427.9,352.5 428.7,385.6 429.4,390.2 430.1,354.4 430.8,379.9 431.5,347.1 432.3,386.6 433.0,364.9 433.7,374.8 434.4,369.5 435.2,357.4 435.9,370.6 436.6,317.5 437.3,375.1 438.0,341.7 438.8,360.9 439.5,374.0 440.2,397.0 440.9,361.8 441.6,383.5 442.4,399.2 443.1,373.1 443.8,386.0 444.5,373.5 445.3,368.6 446.0,377.5 446.7,384.1 447.4,376.0 448.1,321.8 448.9,387.3 449.6,390.9 450.3,385.9 451.0,392.1 451.8,378.2 452.5,386.8 453.2,366.5 453.9,370.5 454.6,332.5 455.4,371.6 456.1,367.2 456.8,365.7 457.5,416.0 458.2,371.3 459.0,378.5 459.7,385.7 460.4,371.8 461.1,383.8 461.9,359.6 462.6,363.4 463.3,394.9 464.0,356.8 464.7,398.8 465.5,362.4 466.2,335.0 466.9,347.3 467.6,390.7 468.4,341.8 469.1,336.5 469.8,366.2 470.5,367.5 471.2,334.5 472.0,363.6 472.7,396.9 473.4,430.7 474.1,430.0 474.8,439.9 475.6,435.5 476.3,439.9 477.0,438.4 477.7,447.5 478.5,445.7 479.2,442.0 479.9,441.0 480.6,434.3 481.3,436.9 482.1,446.9 482.8,439.3 483.5,445.3 484.2,444.0 485.0,442.3 485.7,442.6 486.4,441.7 487.1,444.4 487.8,439.5 488.6,423.3 489.3,443.2 490.0,444.9 490.7,442.2 491.4,428.3 492.2,445.9 492.9,427.5 493.6,440.8 494.3,441.1 495.1,442.0 495.8,429.1 496.5,447.5 497.2,438.6 497.9,442.5 498.7,440.5 499.4,442.2 500.1,439.3 500.8,446.4 501.6,438.9 502.3,450.2 503.0,441.6 503.7,437.7 504.4,441.2 505.2,417.0 505.9,445.2 506.6,439.0 507.3,442.2 508.0,439.8 508.8,440.2 509.5,443.3 510.2,444.5 510.9,439.8 511.7,440.1 512.4,441.7 513.1,440.5 513.8,444.6 514.5,442.2 515.3,439.7 516.0,441.4 516.7,451.4 517.4,441.2 518.2,444.2 518.9,443.4 519.6,441.8 520.3,436.9 521.0,449.8 521.8,445.8 522.5,435.8 523.2,444.6 523.9,436.1 524.6,437.3 525.4,445.6 526.1,417.8 526.8,408.7 527.5,401.7 528.3,416.1 529.0,413.5 529.7,418.6 530.4,397.3 531.1,428.4 531.9,413.6 532.6,366.4 533.3,357.0 534.0,388.6 534.8,373.0 535.5,391.8 536.2,396.6 536.9,345.9 537.6,348.3 538.4,393.8 539.1,382.9 539.8,357.8 540.5,382.5 541.2,387.7 542.0,384.6 542.7,408.9 543.4,433.3 544.1,390.9 544.9,389.5 545.6,392.5 546.3,389.0 547.0,389.9 547.7,390.2 548.5,386.6 549.2,394.8 549.9,389.4 550.6,394.1 551.4,392.8 552.1,384.2 552.8,388.1 553.5,363.0 554.2,405.5 555.0,396.9 555.7,363.9 556.4,369.2 557.1,355.1 557.8,371.3 558.6,367.8 559.3,366.0 560.0,376.2 560.7,398.2 561.5,357.3 562.2,382.4 562.9,377.2 563.6,378.5 564.3,362.3 565.1,380.0 565.8,395.9 566.5,372.7 567.2,354.0 568.0,382.3 568.7,348.3 569.4,377.3 570.1,368.1 570.8,339.0 571.6,352.6 572.3,320.9 573.0,387.6 573.7,372.2 574.4,359.0 575.2,379.7 575.9,388.9 576.6,366.0 577.3,377.9 578.1,379.2 578.8,383.1 579.5,367.6 580.2,375.9 580.9,376.4 581.7,386.2 582.4,384.2 583.1,396.7 583.8,368.8 584.5,378.3 585.3,384.9 586.0,375.5 586.7,366.0 587.4,365.1 588.2,378.4 588.9,360.3 589.6,295.7 590.3,406.5 591.0,393.2 591.8,362.4 592.5,371.0 593.2,362.9 593.9,353.0 594.7,392.5 595.4,370.1 596.1,353.6 596.8,392.0 597.5,344.1 598.3,408.4 599.0,380.8 599.7,328.7 600.4,380.7 601.1,372.5 601.9,368.0 602.6,380.1 603.3,321.6 604.0,374.3 604.8,386.7 605.5,325.4 606.2,361.8 606.9,388.8 607.6,408.1 608.4,382.1 609.1,365.9 609.8,398.9 610.5,384.4 611.3,388.5 612.0,388.1 612.7,380.7 613.4,395.1 614.1,392.4 614.9,377.6 615.6,395.0 616.3,387.6 617.0,386.4 617.7,382.9 618.5,391.8 619.2,385.0 619.9,348.2 620.6,376.5 621.4,361.4 622.1,389.7 622.8,357.9 623.5,379.0 624.2,382.0 625.0,377.4 625.7,399.5 626.4,400.7 627.1,370.8 627.9,375.2 628.6,378.3 629.3,401.0 630.0,371.5 630.7,382.2 631.5,399.5 632.2,354.7 632.9,330.4 633.6,372.9 634.3,388.0 635.1,307.9 635.8,354.8 636.5,370.6 637.2,356.3 638.0,334.4 638.7,384.7 639.4,372.5 640.1,343.7 640.8,391.8 641.6,353.3 642.3,375.0 643.0,384.8 643.7,373.7 644.5,362.4 645.2,376.6 645.9,370.7 646.6,362.7 647.3,360.7 648.1,382.0 648.8,372.3 649.5,410.8 650.2,395.9 650.9,390.0 651.7,383.4 652.4,381.2 653.1,393.3 653.8,365.7 654.6,355.6 655.3,346.3 656.0,372.8" fill="none" stroke="#111" stroke-width="0.65" stroke-linejoin="round"/>
<polyline clip-path="url(#cD)" points="353.6,366.4 354.3,364.4 355.0,386.5 355.8,437.4 356.5,388.3 357.2,389.5 357.9,378.7 358.7,350.1 359.4,411.7 360.1,384.7 360.8,336.4 361.5,369.4 362.3,373.5 363.0,356.2 363.7,398.8 364.4,337.9 365.1,412.8 365.9,408.5 366.6,371.1 367.3,355.8 368.0,386.3 368.8,391.9 369.5,367.2 370.2,361.8 370.9,370.9 371.6,418.0 372.4,389.0 373.1,431.3 373.8,371.3 374.5,395.5 375.3,391.4 376.0,339.2 376.7,343.9 377.4,453.8 378.1,370.4 378.9,373.1 379.6,389.9 380.3,378.5 381.0,328.9 381.7,396.1 382.5,391.5 383.2,373.3 383.9,354.8 384.6,356.3 385.4,398.0 386.1,380.2 386.8,383.1 387.5,403.6 388.2,375.5 389.0,387.7 389.7,354.1 390.4,366.5 391.1,394.0 391.9,375.4 392.6,385.0 393.3,390.9 394.0,387.8 394.7,350.4 395.5,386.2 396.2,413.8 396.9,393.9 397.6,357.0 398.3,322.8 399.1,399.8 399.8,385.0 400.5,384.4 401.2,407.3 402.0,367.3 402.7,378.5 403.4,370.4 404.1,320.7 404.8,383.1 405.6,357.3 406.3,317.5 407.0,390.9 407.7,390.0 408.5,337.9 409.2,359.3 409.9,373.8 410.6,400.7 411.3,355.0 412.1,364.1 412.8,321.7 413.5,306.6 414.2,432.0 414.9,370.7 415.7,375.9 416.4,389.1 417.1,369.6 417.8,371.3 418.6,360.9 419.3,349.9 420.0,369.5 420.7,389.0 421.4,357.0 422.2,338.1 422.9,426.5 423.6,366.8 424.3,363.6 425.1,363.9 425.8,364.7 426.5,379.4 427.2,379.6 427.9,334.7 428.7,333.5 429.4,407.2 430.1,431.3 430.8,366.3 431.5,391.8 432.3,388.4 433.0,411.3 433.7,368.5 434.4,378.6 435.2,388.9 435.9,354.7 436.6,315.8 437.3,340.1 438.0,347.7 438.8,386.2 439.5,317.5 440.2,378.3 440.9,348.1 441.6,362.7 442.4,378.2 443.1,363.4 443.8,392.7 444.5,357.4 445.3,339.3 446.0,385.1 446.7,363.4 447.4,412.8 448.1,353.7 448.9,355.2 449.6,399.1 450.3,333.3 451.0,374.6 451.8,414.1 452.5,406.5 453.2,434.7 453.9,383.2 454.6,349.5 455.4,410.3 456.1,379.5 456.8,352.7 457.5,391.8 458.2,360.2 459.0,385.1 459.7,368.7 460.4,369.3 461.1,320.9 461.9,403.7 462.6,314.8 463.3,344.2 464.0,401.3 464.7,375.4 465.5,318.9 466.2,350.8 466.9,433.1 467.6,382.5 468.4,413.7 469.1,369.8 469.8,392.8 470.5,389.4 471.2,395.2 472.0,370.0 472.7,387.3 473.4,456.3 474.1,453.4 474.8,450.7 475.6,456.1 476.3,447.7 477.0,459.6 477.7,450.7 478.5,454.1 479.2,445.7 479.9,455.2 480.6,455.3 481.3,458.2 482.1,443.9 482.8,449.8 483.5,457.1 484.2,453.9 485.0,456.5 485.7,445.9 486.4,450.6 487.1,461.2 487.8,451.5 488.6,448.5 489.3,452.4 490.0,450.4 490.7,452.9 491.4,451.5 492.2,451.5 492.9,455.5 493.6,450.9 494.3,451.7 495.1,452.6 495.8,455.4 496.5,456.8 497.2,451.4 497.9,448.9 498.7,462.8 499.4,454.7 500.1,446.6 500.8,448.5 501.6,455.5 502.3,446.6 503.0,456.7 503.7,455.8 504.4,444.1 505.2,454.3 505.9,453.4 506.6,459.5 507.3,456.8 508.0,457.5 508.8,453.0 509.5,460.3 510.2,447.9 510.9,454.0 511.7,455.0 512.4,455.2 513.1,449.2 513.8,445.8 514.5,454.2 515.3,427.9 516.0,445.5 516.7,446.7 517.4,427.9 518.2,458.8 518.9,449.5 519.6,454.2 520.3,451.6 521.0,460.5 521.8,453.6 522.5,451.4 523.2,456.5 523.9,451.2 524.6,445.2 525.4,451.4 526.1,433.3 526.8,404.7 527.5,446.3 528.3,435.3 529.0,422.9 529.7,432.4 530.4,447.5 531.1,424.5 531.9,418.4 532.6,320.2 533.3,359.3 534.0,383.9 534.8,366.3 535.5,429.0 536.2,396.6 536.9,355.9 537.6,345.3 538.4,363.1 539.1,396.6 539.8,391.9 540.5,409.9 541.2,368.6 542.0,411.3 542.7,393.4 543.4,440.4 544.1,443.3 544.9,411.1 545.6,429.3 546.3,427.7 547.0,449.4 547.7,430.2 548.5,445.6 549.2,443.2 549.9,451.0 550.6,431.4 551.4,447.0 552.1,431.8 552.8,441.1 553.5,417.6 554.2,414.8 555.0,368.7 555.7,387.4 556.4,363.6 557.1,411.2 557.8,370.0 558.6,396.5 559.3,383.9 560.0,360.6 560.7,385.4 561.5,394.4 562.2,424.7 562.9,384.6 563.6,364.7 564.3,400.9 565.1,387.9 565.8,427.2 566.5,417.2 567.2,375.2 568.0,350.5 568.7,393.5 569.4,425.0 570.1,395.1 570.8,422.5 571.6,333.8 572.3,332.9 573.0,378.0 573.7,389.8 574.4,357.6 575.2,395.1 575.9,377.1 576.6,380.8 577.3,374.0 578.1,420.4 578.8,366.6 579.5,361.9 580.2,439.2 580.9,446.6 581.7,407.1 582.4,345.0 583.1,385.7 583.8,367.5 584.5,370.9 585.3,361.7 586.0,401.1 586.7,399.9 587.4,375.9 588.2,369.4 588.9,370.4 589.6,376.9 590.3,298.4 591.0,355.6 591.8,373.2 592.5,356.8 593.2,445.4 593.9,358.3 594.7,443.0 595.4,380.4 596.1,401.8 596.8,383.0 597.5,397.4 598.3,393.5 599.0,381.0 599.7,376.7 600.4,404.9 601.1,445.2 601.9,404.5 602.6,371.2 603.3,406.0 604.0,374.4 604.8,394.9 605.5,408.3 606.2,353.8 606.9,340.1 607.6,388.7 608.4,387.5 609.1,359.6 609.8,417.3 610.5,406.7 611.3,427.9 612.0,430.0 612.7,441.8 613.4,444.0 614.1,435.0 614.9,448.7 615.6,441.9 616.3,439.9 617.0,456.7 617.7,432.8 618.5,431.2 619.2,428.5 619.9,449.0 620.6,447.8 621.4,444.3 622.1,448.0 622.8,331.4 623.5,412.9 624.2,397.2 625.0,383.9 625.7,376.8 626.4,348.5 627.1,415.6 627.9,364.7 628.6,385.5 629.3,417.6 630.0,385.4 630.7,423.1 631.5,343.6 632.2,407.1 632.9,361.1 633.6,352.7 634.3,404.4 635.1,411.1 635.8,386.0 636.5,321.6 637.2,364.1 638.0,384.7 638.7,407.9 639.4,406.1 640.1,369.1 640.8,424.3 641.6,341.6 642.3,408.4 643.0,394.4 643.7,411.8 644.5,343.4 645.2,366.2 645.9,352.6 646.6,437.4 647.3,387.2 648.1,341.4 648.8,370.8 649.5,377.3 650.2,373.3 650.9,368.7 651.7,381.8 652.4,393.7 653.1,427.8 653.8,330.9 654.6,420.8 655.3,441.2 656.0,406.8" fill="none" stroke="#e8231f" stroke-opacity="0.9" stroke-width="0.7" stroke-linejoin="round"/>
<clipPath id="cE"><rect x="43.3" y="489.2" width="302.4" height="218.3"/></clipPath>
<polyline clip-path="url(#cE)" points="43.3,609.8 44.0,558.4 44.7,595.1 45.5,636.1 46.2,547.9 46.9,651.6 47.6,611.2 48.4,619.9 49.1,604.4 49.8,619.4 50.5,613.4 51.2,612.0 52.0,589.4 52.7,621.6 53.4,611.6 54.1,560.1 54.8,561.6 55.6,580.2 56.3,604.6 57.0,615.5 57.7,603.2 58.5,628.9 59.2,581.0 59.9,618.5 60.6,643.2 61.3,582.8 62.1,565.6 62.8,585.5 63.5,653.4 64.2,654.0 65.0,650.3 65.7,651.0 66.4,660.0 67.1,653.6 67.8,655.8 68.6,650.0 69.3,656.4 70.0,656.7 70.7,660.3 71.4,655.4 72.2,654.5 72.9,650.7 73.6,656.1 74.3,652.4 75.1,648.3 75.8,659.0 76.5,652.0 77.2,625.8 77.9,647.1 78.7,636.0 79.4,624.7 80.1,640.1 80.8,615.2 81.6,635.7 82.3,608.8 83.0,630.2 83.7,606.5 84.4,608.0 85.2,611.1 85.9,607.0 86.6,582.4 87.3,610.2 88.0,646.5 88.8,631.1 89.5,610.5 90.2,609.3 90.9,632.7 91.7,617.3 92.4,624.0 93.1,628.8 93.8,631.2 94.5,624.7 95.3,605.9 96.0,647.9 96.7,608.5 97.4,621.9 98.2,646.1 98.9,620.8 99.6,627.2 100.3,637.6 101.0,616.5 101.8,629.1 102.5,606.8 103.2,603.9 103.9,618.3 104.6,618.8 105.4,637.5 106.1,625.6 106.8,607.0 107.5,594.7 108.3,648.3 109.0,621.1 109.7,625.7 110.4,591.0 111.1,619.5 111.9,592.1 112.6,652.1 113.3,648.4 114.0,622.7 114.8,644.0 115.5,650.8 116.2,630.9 116.9,631.2 117.6,623.2 118.4,601.3 119.1,635.5 119.8,634.5 120.5,637.8 121.2,631.2 122.0,626.5 122.7,626.4 123.4,641.0 124.1,629.3 124.9,632.9 125.6,633.8 126.3,636.4 127.0,633.8 127.7,630.1 128.5,628.3 129.2,627.7 129.9,634.9 130.6,631.6 131.3,635.2 132.1,627.3 132.8,631.3 133.5,631.8 134.2,595.3 135.0,584.0 135.7,637.0 136.4,582.4 137.1,604.3 137.8,530.1 138.6,644.7 139.3,631.2 140.0,626.4 140.7,599.6 141.5,614.7 142.2,609.7 142.9,611.0 143.6,605.2 144.3,617.5 145.1,590.6 145.8,644.4 146.5,626.3 147.2,618.5 147.9,625.4 148.7,591.1 149.4,619.5 150.1,639.9 150.8,620.8 151.6,619.7 152.3,624.8 153.0,622.6 153.7,620.5 154.4,601.2 155.2,615.3 155.9,607.4 156.6,614.2 157.3,592.4 158.1,612.1 158.8,608.0 159.5,594.4 160.2,590.2 160.9,592.1 161.7,623.6 162.4,631.7 163.1,661.4 163.8,678.4 164.5,686.8 165.3,689.5 166.0,683.1 166.7,684.3 167.4,693.0 168.2,680.0 168.9,686.1 169.6,679.9 170.3,680.5 171.0,684.1 171.8,680.3 172.5,687.1 173.2,684.0 173.9,684.8 174.7,683.6 175.4,682.1 176.1,663.8 176.8,685.8 177.5,681.7 178.3,685.5 179.0,681.1 179.7,687.3 180.4,688.6 181.1,675.7 181.9,689.0 182.6,681.1 183.3,678.0 184.0,681.5 184.8,682.5 185.5,684.5 186.2,667.0 186.9,687.2 187.6,682.2 188.4,681.5 189.1,689.1 189.8,692.1 190.5,675.4 191.3,684.8 192.0,688.1 192.7,688.1 193.4,681.2 194.1,679.3 194.9,687.6 195.6,685.4 196.3,682.0 197.0,686.0 197.7,682.9 198.5,682.6 199.2,681.4 199.9,680.3 200.6,683.6 201.4,686.4 202.1,689.1 202.8,684.4 203.5,687.8 204.2,685.7 205.0,684.9 205.7,684.5 206.4,680.7 207.1,682.9 207.9,683.8 208.6,678.1 209.3,684.0 210.0,677.4 210.7,684.2 211.5,682.7 212.2,687.9 212.9,683.8 213.6,687.5 214.3,678.9 215.1,683.4 215.8,678.9 216.5,682.3 217.2,687.8 218.0,692.7 218.7,684.5 219.4,686.2 220.1,685.7 220.8,663.8 221.6,683.7 222.3,685.1 223.0,682.9 223.7,686.6 224.5,687.4 225.2,685.9 225.9,680.2 226.6,681.8 227.3,685.4 228.1,682.5 228.8,670.8 229.5,687.9 230.2,677.1 230.9,685.4 231.7,688.1 232.4,683.7 233.1,683.3 233.8,679.2 234.6,673.4 235.3,685.6 236.0,686.0 236.7,685.2 237.4,685.2 238.2,687.6 238.9,684.4 239.6,679.5 240.3,680.7 241.1,685.2 241.8,688.6 242.5,681.6 243.2,679.5 243.9,689.3 244.7,682.1 245.4,677.6 246.1,680.0 246.8,681.7 247.5,684.2 248.3,686.3 249.0,682.8 249.7,679.5 250.4,681.4 251.2,681.0 251.9,684.4 252.6,684.9 253.3,678.8 254.0,683.7 254.8,680.6 255.5,685.8 256.2,687.9 256.9,683.5 257.7,683.1 258.4,693.2 259.1,687.3 259.8,682.8 260.5,685.1 261.3,688.6 262.0,684.4 262.7,599.0 263.4,567.0 264.1,634.4 264.9,607.0 265.6,616.7 266.3,568.7 267.0,600.1 267.8,623.1 268.5,595.3 269.2,592.4 269.9,589.4 270.6,588.9 271.4,614.1 272.1,626.0 272.8,602.7 273.5,608.6 274.2,613.6 275.0,633.4 275.7,596.3 276.4,597.9 277.1,586.2 277.9,600.3 278.6,610.2 279.3,621.2 280.0,612.6 280.7,539.7 281.5,610.7 282.2,619.3 282.9,622.9 283.6,626.0 284.4,624.5 285.1,625.6 285.8,626.3 286.5,630.0 287.2,626.5 288.0,626.6 288.7,622.8 289.4,628.1 290.1,623.7 290.8,623.9 291.6,625.7 292.3,625.8 293.0,623.3 293.7,625.0 294.5,574.9 295.2,658.2 295.9,634.8 296.6,582.1 297.3,611.6 298.1,651.4 298.8,656.1 299.5,642.4 300.2,644.2 301.0,650.8 301.7,629.9 302.4,624.4 303.1,638.4 303.8,622.3 304.6,628.3 305.3,604.4 306.0,641.5 306.7,621.6 307.4,617.5 308.2,573.8 308.9,639.1 309.6,620.5 310.3,640.8 311.1,606.4 311.8,610.9 312.5,598.5 313.2,624.6 313.9,587.8 314.7,628.2 315.4,646.9 316.1,632.2 316.8,667.9 317.6,599.7 318.3,628.8 319.0,629.6 319.7,609.0 320.4,640.7 321.2,564.2 321.9,611.0 322.6,636.9 323.3,621.5 324.0,631.2 324.8,634.6 325.5,614.8 326.2,625.4 326.9,603.2 327.7,619.3 328.4,646.2 329.1,616.5 329.8,606.7 330.5,614.2 331.3,643.0 332.0,630.4 332.7,640.5 333.4,624.6 334.2,632.2 334.9,603.4 335.6,613.4 336.3,580.6 337.0,610.3 337.8,643.7 338.5,623.9 339.2,586.3 339.9,626.2 340.6,617.9 341.4,603.0 342.1,593.7 342.8,598.7 343.5,621.7 344.3,638.6 345.0,628.8 345.7,609.1" fill="none" stroke="#111" stroke-width="0.65" stroke-linejoin="round"/>
<polyline clip-path="url(#cE)" points="43.3,616.9 44.0,557.2 44.7,646.4 45.5,664.9 46.2,659.1 46.9,630.5 47.6,625.2 48.4,613.8 49.1,654.4 49.8,661.2 50.5,633.0 51.2,588.6 52.0,604.3 52.7,577.9 53.4,614.4 54.1,600.0 54.8,643.3 55.6,596.6 56.3,608.4 57.0,605.7 57.7,641.0 58.5,640.0 59.2,644.5 59.9,589.5 60.6,663.9 61.3,640.9 62.1,623.9 62.8,662.8 63.5,678.0 64.2,670.7 65.0,674.4 65.7,687.4 66.4,679.4 67.1,686.1 67.8,696.9 68.6,672.6 69.3,674.3 70.0,688.6 70.7,670.6 71.4,672.5 72.2,660.7 72.9,675.5 73.6,666.4 74.3,681.5 75.1,681.0 75.8,663.6 76.5,672.7 77.2,595.1 77.9,646.1 78.7,642.5 79.4,618.9 80.1,658.0 80.8,621.5 81.6,673.2 82.3,687.4 83.0,651.5 83.7,624.7 84.4,585.0 85.2,644.8 85.9,636.6 86.6,646.5 87.3,633.2 88.0,607.0 88.8,624.9 89.5,630.1 90.2,630.7 90.9,647.0 91.7,620.3 92.4,589.0 93.1,666.4 93.8,584.2 94.5,693.4 95.3,680.6 96.0,623.8 96.7,652.3 97.4,579.6 98.2,625.2 98.9,677.1 99.6,640.3 100.3,629.9 101.0,610.5 101.8,655.4 102.5,677.3 103.2,672.1 103.9,615.2 104.6,608.1 105.4,681.9 106.1,631.0 106.8,656.8 107.5,637.0 108.3,620.2 109.0,572.4 109.7,643.4 110.4,685.9 111.1,641.4 111.9,599.1 112.6,655.2 113.3,630.0 114.0,627.9 114.8,574.3 115.5,660.8 116.2,617.5 116.9,647.4 117.6,642.1 118.4,641.0 119.1,691.9 119.8,655.3 120.5,677.1 121.2,663.1 122.0,651.3 122.7,669.7 123.4,689.0 124.1,682.4 124.9,655.1 125.6,644.6 126.3,634.3 127.0,684.7 127.7,663.5 128.5,664.5 129.2,676.9 129.9,669.6 130.6,681.0 131.3,664.2 132.1,673.4 132.8,670.7 133.5,642.2 134.2,651.9 135.0,626.0 135.7,643.6 136.4,636.9 137.1,571.1 137.8,628.4 138.6,622.5 139.3,646.3 140.0,611.6 140.7,655.3 141.5,655.7 142.2,648.8 142.9,594.5 143.6,594.3 144.3,641.4 145.1,574.6 145.8,688.4 146.5,663.8 147.2,617.0 147.9,652.3 148.7,656.1 149.4,680.9 150.1,624.2 150.8,617.0 151.6,653.1 152.3,611.3 153.0,617.2 153.7,612.9 154.4,610.3 155.2,646.5 155.9,618.4 156.6,614.6 157.3,642.6 158.1,636.2 158.8,658.1 159.5,623.6 160.2,655.1 160.9,616.7 161.7,626.4 162.4,632.8 163.1,688.7 163.8,692.8 164.5,683.8 165.3,689.6 166.0,696.6 166.7,693.9 167.4,689.8 168.2,683.6 168.9,694.0 169.6,684.5 170.3,690.7 171.0,685.5 171.8,694.1 172.5,695.0 173.2,693.1 173.9,691.3 174.7,695.9 175.4,697.0 176.1,688.1 176.8,686.7 177.5,691.7 178.3,693.6 179.0,671.5 179.7,699.4 180.4,665.7 181.1,690.4 181.9,664.4 182.6,689.7 183.3,686.9 184.0,688.7 184.8,691.5 185.5,687.6 186.2,695.8 186.9,690.4 187.6,689.7 188.4,698.6 189.1,689.0 189.8,689.3 190.5,687.4 191.3,691.3 192.0,685.9 192.7,687.0 193.4,688.6 194.1,702.6 194.9,691.1 195.6,690.3 196.3,691.3 197.0,696.2 197.7,687.3 198.5,693.4 199.2,692.2 199.9,689.8 200.6,686.2 201.4,693.2 202.1,696.1 202.8,689.7 203.5,690.5 204.2,700.1 205.0,694.3 205.7,691.0 206.4,699.5 207.1,686.1 207.9,697.1 208.6,687.8 209.3,696.2 210.0,693.3 210.7,694.5 211.5,693.0 212.2,700.1 212.9,694.7 213.6,687.6 214.3,689.3 215.1,682.1 215.8,700.2 216.5,685.0 217.2,690.9 218.0,697.5 218.7,698.0 219.4,693.9 220.1,691.0 220.8,672.0 221.6,684.6 222.3,691.9 223.0,694.6 223.7,695.7 224.5,696.7 225.2,692.0 225.9,692.3 226.6,695.3 227.3,690.0 228.1,694.9 228.8,693.9 229.5,686.7 230.2,686.5 230.9,693.3 231.7,683.5 232.4,670.9 233.1,686.0 233.8,690.7 234.6,693.6 235.3,691.7 236.0,693.2 236.7,690.5 237.4,691.9 238.2,692.2 238.9,695.8 239.6,689.5 240.3,687.3 241.1,696.2 241.8,691.5 242.5,687.4 243.2,687.6 243.9,695.2 244.7,680.4 245.4,676.2 246.1,688.2 246.8,689.8 247.5,680.4 248.3,694.4 249.0,685.5 249.7,689.2 250.4,695.5 251.2,691.3 251.9,672.3 252.6,690.4 253.3,690.6 254.0,700.4 254.8,688.5 255.5,690.0 256.2,686.7 256.9,691.2 257.7,695.2 258.4,688.3 259.1,686.9 259.8,701.2 260.5,686.6 261.3,688.8 262.0,693.5 262.7,667.3 263.4,567.0 264.1,602.4 264.9,631.3 265.6,613.8 266.3,651.8 267.0,678.6 267.8,662.9 268.5,566.3 269.2,608.8 269.9,616.5 270.6,620.6 271.4,640.5 272.1,644.9 272.8,650.0 273.5,626.5 274.2,644.4 275.0,638.2 275.7,624.9 276.4,619.2 277.1,626.1 277.9,631.8 278.6,624.9 279.3,599.8 280.0,597.2 280.7,539.7 281.5,658.5 282.2,626.0 282.9,680.5 283.6,663.3 284.4,666.5 285.1,677.0 285.8,662.7 286.5,668.3 287.2,690.6 288.0,674.5 288.7,678.7 289.4,684.4 290.1,668.0 290.8,675.8 291.6,692.5 292.3,688.3 293.0,683.2 293.7,670.5 294.5,612.5 295.2,595.3 295.9,631.5 296.6,585.9 297.3,631.1 298.1,602.0 298.8,631.6 299.5,633.2 300.2,613.8 301.0,652.8 301.7,562.9 302.4,610.2 303.1,654.6 303.8,626.6 304.6,629.6 305.3,648.8 306.0,670.1 306.7,591.7 307.4,635.5 308.2,542.1 308.9,553.6 309.6,672.7 310.3,603.3 311.1,631.7 311.8,608.7 312.5,656.7 313.2,595.3 313.9,542.1 314.7,652.4 315.4,661.6 316.1,634.5 316.8,564.2 317.6,612.8 318.3,636.8 319.0,626.9 319.7,583.5 320.4,613.4 321.2,593.5 321.9,627.5 322.6,635.9 323.3,631.2 324.0,634.9 324.8,660.9 325.5,618.3 326.2,627.8 326.9,631.8 327.7,597.4 328.4,553.9 329.1,645.4 329.8,605.0 330.5,652.3 331.3,592.1 332.0,627.1 332.7,661.3 333.4,651.6 334.2,602.5 334.9,641.1 335.6,626.5 336.3,551.1 337.0,645.3 337.8,608.8 338.5,689.0 339.2,671.8 339.9,612.6 340.6,622.1 341.4,575.6 342.1,637.9 342.8,682.9 343.5,594.1 344.3,669.7 345.0,629.9 345.7,572.4" fill="none" stroke="#e8231f" stroke-opacity="0.9" stroke-width="0.7" stroke-linejoin="round"/>
<clipPath id="cF"><rect x="353.6" y="489.2" width="302.4" height="218.3"/></clipPath>
<polyline clip-path="url(#cF)" points="353.6,579.5 354.3,618.7 355.0,573.2 355.8,603.4 356.5,623.5 357.2,628.7 357.9,567.0 358.7,632.5 359.4,603.1 360.1,624.5 360.8,631.8 361.5,624.3 362.3,624.9 363.0,580.8 363.7,628.2 364.4,627.0 365.1,656.4 365.9,627.2 366.6,652.9 367.3,632.5 368.0,662.5 368.8,561.5 369.5,592.3 370.2,611.7 370.9,643.8 371.6,625.5 372.4,586.3 373.1,621.1 373.8,641.7 374.5,611.8 375.3,643.9 376.0,622.0 376.7,612.6 377.4,617.1 378.1,632.0 378.9,575.9 379.6,580.3 380.3,602.0 381.0,585.2 381.7,610.0 382.5,658.4 383.2,628.8 383.9,625.7 384.6,605.5 385.4,669.1 386.1,675.1 386.8,671.7 387.5,670.5 388.2,682.0 389.0,689.6 389.7,682.9 390.4,694.0 391.1,684.6 391.9,680.0 392.6,663.8 393.3,682.3 394.0,683.9 394.7,686.9 395.5,690.9 396.2,687.0 396.9,684.0 397.6,684.9 398.3,685.2 399.1,663.8 399.8,682.5 400.5,685.5 401.2,682.5 402.0,687.9 402.7,693.1 403.4,687.3 404.1,681.5 404.8,683.3 405.6,683.5 406.3,682.9 407.0,686.6 407.7,679.0 408.5,686.4 409.2,685.6 409.9,683.2 410.6,689.0 411.3,680.2 412.1,679.0 412.8,683.5 413.5,687.1 414.2,678.1 414.9,687.3 415.7,684.6 416.4,684.5 417.1,679.8 417.8,690.0 418.6,679.3 419.3,680.9 420.0,683.9 420.7,690.1 421.4,679.1 422.2,694.0 422.9,688.1 423.6,659.4 424.3,681.7 425.1,686.2 425.8,687.0 426.5,690.0 427.2,681.7 427.9,688.7 428.7,685.1 429.4,681.7 430.1,686.7 430.8,685.2 431.5,679.5 432.3,690.9 433.0,684.4 433.7,678.7 434.4,685.6 435.2,686.4 435.9,683.5 436.6,691.1 437.3,685.3 438.0,666.3 438.8,686.0 439.5,678.1 440.2,691.6 440.9,683.2 441.6,683.7 442.4,683.1 443.1,689.3 443.8,678.2 444.5,683.9 445.3,683.4 446.0,684.6 446.7,686.3 447.4,685.4 448.1,686.1 448.9,684.5 449.6,678.9 450.3,681.9 451.0,687.5 451.8,685.6 452.5,684.3 453.2,686.2 453.9,682.2 454.6,683.2 455.4,690.6 456.1,663.8 456.8,689.3 457.5,667.5 458.2,686.6 459.0,687.1 459.7,682.5 460.4,685.9 461.1,678.4 461.9,683.9 462.6,681.3 463.3,686.2 464.0,677.1 464.7,687.5 465.5,688.0 466.2,691.0 466.9,678.7 467.6,680.7 468.4,686.2 469.1,691.7 469.8,687.8 470.5,684.8 471.2,681.7 472.0,681.0 472.7,681.9 473.4,684.4 474.1,686.9 474.8,694.0 475.6,679.8 476.3,688.4 477.0,684.2 477.7,680.3 478.5,691.6 479.2,686.1 479.9,683.3 480.6,688.8 481.3,689.5 482.1,679.6 482.8,687.3 483.5,686.3 484.2,680.3 485.0,662.5 485.7,680.6 486.4,693.0 487.1,683.0 487.8,677.3 488.6,689.6 489.3,694.0 490.0,683.3 490.7,679.0 491.4,678.0 492.2,689.6 492.9,662.2 493.6,694.0 494.3,678.5 495.1,677.2 495.8,683.5 496.5,683.1 497.2,660.1 497.9,683.4 498.7,687.0 499.4,684.6 500.1,689.0 500.8,686.8 501.6,683.3 502.3,682.7 503.0,690.6 503.7,675.6 504.4,679.0 505.2,684.0 505.9,681.0 506.6,689.0 507.3,682.1 508.0,677.5 508.8,690.6 509.5,687.1 510.2,687.4 510.9,683.5 511.7,648.8 512.4,672.1 513.1,655.2 513.8,690.0 514.5,604.3 515.3,517.9 516.0,612.3 516.7,628.8 517.4,615.5 518.2,598.7 518.9,628.3 519.6,636.0 520.3,625.0 521.0,620.9 521.8,605.3 522.5,637.1 523.2,620.1 523.9,598.1 524.6,623.4 525.4,619.3 526.1,615.1 526.8,612.0 527.5,607.0 528.3,613.3 529.0,651.5 529.7,618.2 530.4,670.0 531.1,638.2 531.9,612.9 532.6,625.2 533.3,621.8 534.0,596.6 534.8,610.2 535.5,626.3 536.2,634.4 536.9,592.0 537.6,634.3 538.4,622.6 539.1,614.6 539.8,641.4 540.5,628.0 541.2,542.4 542.0,615.6 542.7,624.8 543.4,620.5 544.1,622.6 544.9,641.7 545.6,623.8 546.3,601.8 547.0,619.6 547.7,609.5 548.5,607.2 549.2,591.0 549.9,643.5 550.6,612.7 551.4,636.4 552.1,594.4 552.8,638.8 553.5,552.0 554.2,635.8 555.0,606.6 555.7,603.3 556.4,576.0 557.1,629.5 557.8,637.1 558.6,625.3 559.3,626.1 560.0,626.3 560.7,609.7 561.5,619.3 562.2,622.9 562.9,649.1 563.6,608.6 564.3,615.1 565.1,644.1 565.8,624.3 566.5,608.6 567.2,624.4 568.0,632.9 568.7,623.2 569.4,634.5 570.1,573.8 570.8,640.3 571.6,600.1 572.3,658.9 573.0,652.5 573.7,584.7 574.4,584.4 575.2,618.6 575.9,598.9 576.6,616.7 577.3,640.4 578.1,601.1 578.8,624.9 579.5,609.7 580.2,616.1 580.9,639.3 581.7,620.1 582.4,638.2 583.1,591.0 583.8,613.9 584.5,616.8 585.3,601.1 586.0,607.0 586.7,620.8 587.4,633.7 588.2,642.7 588.9,631.4 589.6,633.1 590.3,623.3 591.0,642.9 591.8,614.8 592.5,599.6 593.2,640.6 593.9,634.8 594.7,615.9 595.4,606.3 596.1,624.6 596.8,614.2 597.5,634.9 598.3,565.6 599.0,629.0 599.7,625.2 600.4,621.7 601.1,628.3 601.9,620.8 602.6,629.3 603.3,609.7 604.0,613.1 604.8,632.7 605.5,622.0 606.2,589.4 606.9,644.3 607.6,674.8 608.4,591.8 609.1,627.3 609.8,638.9 610.5,622.0 611.3,577.3 612.0,618.1 612.7,621.5 613.4,627.2 614.1,607.1 614.9,614.8 615.6,602.9 616.3,617.7 617.0,622.8 617.7,613.0 618.5,631.9 619.2,582.7 619.9,617.6 620.6,622.3 621.4,608.7 622.1,608.2 622.8,609.4 623.5,612.7 624.2,613.2 625.0,620.9 625.7,597.4 626.4,632.9 627.1,615.8 627.9,634.8 628.6,631.1 629.3,630.8 630.0,632.7 630.7,625.7 631.5,632.6 632.2,633.1 632.9,631.5 633.6,631.1 634.3,629.0 635.1,627.3 635.8,632.7 636.5,624.8 637.2,626.4 638.0,587.4 638.7,630.8 639.4,631.0 640.1,632.2 640.8,635.1 641.6,625.9 642.3,630.4 643.0,599.8 643.7,624.4 644.5,628.2 645.2,631.2 645.9,631.4 646.6,606.0 647.3,620.0 648.1,620.0 648.8,623.5 649.5,620.1 650.2,608.9 650.9,604.3 651.7,599.1 652.4,602.5 653.1,587.1 653.8,595.8 654.6,602.9 655.3,612.1 656.0,625.5" fill="none" stroke="#111" stroke-width="0.65" stroke-linejoin="round"/>
<polyline clip-path="url(#cF)" points="353.6,581.7 354.3,623.2 355.0,631.2 355.8,616.7 356.5,583.5 357.2,605.5 357.9,579.9 358.7,601.7 359.4,631.9 360.1,640.1 360.8,576.2 361.5,650.0 362.3,673.4 363.0,626.4 363.7,638.3 364.4,631.4 365.1,620.0 365.9,564.2 366.6,621.5 367.3,630.5 368.0,617.2 368.8,598.1 369.5,636.4 370.2,628.2 370.9,654.9 371.6,603.6 372.4,604.0 373.1,584.8 373.8,644.0 374.5,568.9 375.3,599.5 376.0,625.6 376.7,627.9 377.4,626.3 378.1,644.3 378.9,602.0 379.6,632.2 380.3,634.4 381.0,607.9 381.7,617.5 382.5,576.5 383.2,624.8 383.9,629.9 384.6,588.4 385.4,688.2 386.1,695.6 386.8,692.7 387.5,686.6 388.2,693.7 389.0,684.9 389.7,690.6 390.4,689.6 391.1,677.6 391.9,688.9 392.6,691.0 393.3,690.0 394.0,690.4 394.7,690.2 395.5,694.7 396.2,688.6 396.9,668.6 397.6,697.0 398.3,696.9 399.1,673.0 399.8,691.0 400.5,701.9 401.2,701.4 402.0,688.0 402.7,692.5 403.4,681.8 404.1,699.1 404.8,693.6 405.6,695.1 406.3,690.1 407.0,686.4 407.7,685.6 408.5,696.8 409.2,687.2 409.9,697.7 410.6,691.2 411.3,691.8 412.1,689.8 412.8,695.9 413.5,686.8 414.2,692.8 414.9,692.6 415.7,666.6 416.4,697.1 417.1,689.4 417.8,691.1 418.6,690.5 419.3,684.5 420.0,696.2 420.7,693.7 421.4,692.5 422.2,688.8 422.9,693.3 423.6,688.5 424.3,690.5 425.1,700.0 425.8,695.4 426.5,701.2 427.2,693.7 427.9,694.3 428.7,689.9 429.4,691.8 430.1,692.8 430.8,687.1 431.5,689.9 432.3,697.8 433.0,695.5 433.7,691.1 434.4,685.1 435.2,693.3 435.9,693.2 436.6,691.4 437.3,689.1 438.0,692.9 438.8,691.2 439.5,694.3 440.2,694.9 440.9,695.9 441.6,689.6 442.4,694.9 443.1,690.1 443.8,690.7 444.5,688.3 445.3,677.9 446.0,696.7 446.7,697.7 447.4,693.2 448.1,689.0 448.9,681.8 449.6,685.9 450.3,686.6 451.0,690.9 451.8,694.2 452.5,690.2 453.2,701.9 453.9,688.5 454.6,692.5 455.4,689.8 456.1,675.4 456.8,697.2 457.5,695.3 458.2,692.7 459.0,691.0 459.7,694.0 460.4,691.0 461.1,689.6 461.9,697.5 462.6,692.9 463.3,699.2 464.0,694.8 464.7,688.6 465.5,695.6 466.2,684.4 466.9,690.3 467.6,688.7 468.4,692.0 469.1,688.8 469.8,687.8 470.5,692.0 471.2,658.4 472.0,694.9 472.7,684.2 473.4,693.3 474.1,694.5 474.8,695.5 475.6,699.7 476.3,674.2 477.0,691.1 477.7,694.6 478.5,695.8 479.2,690.7 479.9,690.5 480.6,673.2 481.3,691.2 482.1,696.7 482.8,688.8 483.5,696.7 484.2,693.9 485.0,691.9 485.7,677.6 486.4,697.4 487.1,683.5 487.8,685.9 488.6,700.0 489.3,692.0 490.0,697.9 490.7,691.1 491.4,665.4 492.2,690.0 492.9,690.2 493.6,685.1 494.3,687.3 495.1,694.5 495.8,688.4 496.5,694.5 497.2,693.0 497.9,694.7 498.7,700.1 499.4,689.9 500.1,701.2 500.8,693.5 501.6,690.2 502.3,692.0 503.0,699.3 503.7,695.3 504.4,689.6 505.2,687.7 505.9,685.6 506.6,700.3 507.3,690.5 508.0,694.6 508.8,689.2 509.5,699.8 510.2,693.1 510.9,689.4 511.7,671.2 512.4,666.2 513.1,677.1 513.8,636.0 514.5,650.1 515.3,642.5 516.0,531.5 516.7,631.5 517.4,579.1 518.2,619.6 518.9,641.0 519.6,612.8 520.3,618.1 521.0,619.4 521.8,626.8 522.5,615.4 523.2,647.2 523.9,647.9 524.6,633.5 525.4,646.1 526.1,610.2 526.8,582.7 527.5,598.4 528.3,615.8 529.0,618.2 529.7,638.3 530.4,649.6 531.1,613.5 531.9,673.4 532.6,619.0 533.3,628.2 534.0,609.0 534.8,624.5 535.5,623.3 536.2,636.4 536.9,657.5 537.6,632.0 538.4,610.2 539.1,602.6 539.8,595.2 540.5,644.0 541.2,643.0 542.0,610.2 542.7,634.0 543.4,569.0 544.1,618.7 544.9,653.6 545.6,635.9 546.3,591.0 547.0,659.4 547.7,622.3 548.5,582.0 549.2,590.3 549.9,633.9 550.6,644.6 551.4,657.2 552.1,638.8 552.8,672.9 553.5,634.4 554.2,577.4 555.0,623.5 555.7,630.5 556.4,647.0 557.1,618.1 557.8,634.3 558.6,641.3 559.3,569.7 560.0,615.9 560.7,642.0 561.5,592.9 562.2,680.2 562.9,676.1 563.6,622.4 564.3,599.6 565.1,612.1 565.8,632.1 566.5,609.8 567.2,632.9 568.0,622.7 568.7,589.3 569.4,645.2 570.1,644.8 570.8,633.0 571.6,634.9 572.3,596.9 573.0,655.1 573.7,575.1 574.4,590.6 575.2,633.9 575.9,584.7 576.6,632.3 577.3,610.8 578.1,611.0 578.8,609.0 579.5,608.7 580.2,582.9 580.9,628.8 581.7,610.2 582.4,629.1 583.1,624.8 583.8,620.8 584.5,626.6 585.3,618.0 586.0,641.4 586.7,687.0 587.4,681.6 588.2,647.2 588.9,638.7 589.6,634.8 590.3,628.4 591.0,654.4 591.8,630.4 592.5,646.5 593.2,640.8 593.9,621.5 594.7,601.1 595.4,619.3 596.1,634.7 596.8,633.7 597.5,596.0 598.3,655.6 599.0,600.4 599.7,653.4 600.4,637.4 601.1,624.6 601.9,629.7 602.6,588.9 603.3,614.7 604.0,626.5 604.8,604.5 605.5,624.8 606.2,677.5 606.9,600.8 607.6,592.4 608.4,597.3 609.1,647.4 609.8,583.5 610.5,633.4 611.3,608.7 612.0,599.2 612.7,573.1 613.4,655.6 614.1,644.5 614.9,599.5 615.6,614.7 616.3,631.4 617.0,673.9 617.7,615.9 618.5,629.1 619.2,673.9 619.9,566.5 620.6,672.0 621.4,636.0 622.1,625.7 622.8,580.6 623.5,608.9 624.2,630.6 625.0,642.3 625.7,632.3 626.4,664.6 627.1,646.3 627.9,581.9 628.6,684.2 629.3,679.5 630.0,661.1 630.7,669.0 631.5,677.7 632.2,672.0 632.9,681.0 633.6,686.0 634.3,669.5 635.1,626.8 635.8,587.5 636.5,636.3 637.2,638.8 638.0,621.2 638.7,634.7 639.4,637.4 640.1,650.5 640.8,623.6 641.6,621.7 642.3,581.2 643.0,631.0 643.7,669.9 644.5,617.9 645.2,568.9 645.9,640.3 646.6,681.6 647.3,634.1 648.1,688.9 648.8,637.9 649.5,634.6 650.2,664.3 650.9,614.9 651.7,650.0 652.4,672.0 653.1,646.5 653.8,613.4 654.6,552.0 655.3,596.8 656.0,625.2" fill="none" stroke="#e8231f" stroke-opacity="0.9" stroke-width="0.7" stroke-linejoin="round"/>
<path d="M103.78,222.30v-4.5M103.78,4.00v4.5M164.26,222.30v-4.5M164.26,4.00v4.5M224.74,222.30v-4.5M224.74,4.00v4.5M285.22,222.30v-4.5M285.22,4.00v4.5M43.30,195.01h4.5M345.70,195.01h-4.5M43.30,167.73h4.5M345.70,167.73h-4.5M43.30,140.44h4.5M345.70,140.44h-4.5M43.30,113.15h4.5M345.70,113.15h-4.5M43.30,85.86h4.5M345.70,85.86h-4.5M43.30,58.57h4.5M345.70,58.57h-4.5M43.30,31.29h4.5M345.70,31.29h-4.5" stroke="#363636" stroke-width="1" fill="none"/>
<rect x="43.30" y="4.00" width="302.40" height="218.30" fill="none" stroke="#363636" stroke-width="1.4"/>
<text x="44.90" y="238.30" class="tl" text-anchor="middle">18</text>
<text x="105.38" y="238.30" class="tl" text-anchor="middle">20</text>
<text x="165.86" y="238.30" class="tl" text-anchor="middle">22</text>
<text x="226.34" y="238.30" class="tl" text-anchor="middle">24</text>
<text x="286.82" y="238.30" class="tl" text-anchor="middle">26</text>
<text x="35.6" y="226.20" class="tl" text-anchor="end">0</text>
<text x="35.6" y="198.91" class="tl" text-anchor="end">2</text>
<text x="35.6" y="171.63" class="tl" text-anchor="end">4</text>
<text x="35.6" y="144.34" class="tl" text-anchor="end">6</text>
<text x="35.6" y="117.05" class="tl" text-anchor="end">8</text>
<text x="35.6" y="89.76" class="tl" text-anchor="end">10</text>
<text x="35.6" y="62.47" class="tl" text-anchor="end">12</text>
<text x="35.6" y="35.19" class="tl" text-anchor="end">14</text>
<text x="35.6" y="7.90" class="tl" text-anchor="end">16</text>
<text x="47.50" y="21.20" class="pl">(A)</text>
<path d="M414.08,222.30v-4.5M414.08,4.00v4.5M474.56,222.30v-4.5M474.56,4.00v4.5M535.04,222.30v-4.5M535.04,4.00v4.5M595.52,222.30v-4.5M595.52,4.00v4.5M353.60,195.01h4.5M656.00,195.01h-4.5M353.60,167.73h4.5M656.00,167.73h-4.5M353.60,140.44h4.5M656.00,140.44h-4.5M353.60,113.15h4.5M656.00,113.15h-4.5M353.60,85.86h4.5M656.00,85.86h-4.5M353.60,58.57h4.5M656.00,58.57h-4.5M353.60,31.29h4.5M656.00,31.29h-4.5" stroke="#363636" stroke-width="1" fill="none"/>
<rect x="353.60" y="4.00" width="302.40" height="218.30" fill="none" stroke="#363636" stroke-width="1.4"/>
<text x="355.20" y="238.30" class="tl" text-anchor="middle">76</text>
<text x="415.68" y="238.30" class="tl" text-anchor="middle">78</text>
<text x="476.16" y="238.30" class="tl" text-anchor="middle">80</text>
<text x="536.64" y="238.30" class="tl" text-anchor="middle">82</text>
<text x="597.12" y="238.30" class="tl" text-anchor="middle">84</text>
<text x="657.60" y="238.30" class="tl" text-anchor="middle">86</text>
<text x="357.80" y="21.20" class="pl">(B)</text>
<path d="M103.78,464.70v-4.5M103.78,246.60v4.5M164.26,464.70v-4.5M164.26,246.60v4.5M224.74,464.70v-4.5M224.74,246.60v4.5M285.22,464.70v-4.5M285.22,246.60v4.5M43.30,437.44h4.5M345.70,437.44h-4.5M43.30,410.18h4.5M345.70,410.18h-4.5M43.30,382.91h4.5M345.70,382.91h-4.5M43.30,355.65h4.5M345.70,355.65h-4.5M43.30,328.39h4.5M345.70,328.39h-4.5M43.30,301.12h4.5M345.70,301.12h-4.5M43.30,273.86h4.5M345.70,273.86h-4.5" stroke="#363636" stroke-width="1" fill="none"/>
<rect x="43.30" y="246.60" width="302.40" height="218.10" fill="none" stroke="#363636" stroke-width="1.4"/>
<text x="44.90" y="480.70" class="tl" text-anchor="middle">102</text>
<text x="105.38" y="480.70" class="tl" text-anchor="middle">104</text>
<text x="165.86" y="480.70" class="tl" text-anchor="middle">106</text>
<text x="226.34" y="480.70" class="tl" text-anchor="middle">108</text>
<text x="286.82" y="480.70" class="tl" text-anchor="middle">110</text>
<text x="35.6" y="468.60" class="tl" text-anchor="end">0</text>
<text x="35.6" y="441.34" class="tl" text-anchor="end">2</text>
<text x="35.6" y="414.07" class="tl" text-anchor="end">4</text>
<text x="35.6" y="386.81" class="tl" text-anchor="end">6</text>
<text x="35.6" y="359.55" class="tl" text-anchor="end">8</text>
<text x="35.6" y="332.29" class="tl" text-anchor="end">10</text>
<text x="35.6" y="305.02" class="tl" text-anchor="end">12</text>
<text x="35.6" y="277.76" class="tl" text-anchor="end">14</text>
<text x="35.6" y="250.50" class="tl" text-anchor="end">16</text>
<text x="47.50" y="263.80" class="pl">(C)</text>
<path d="M414.08,464.70v-4.5M414.08,246.60v4.5M474.56,464.70v-4.5M474.56,246.60v4.5M535.04,464.70v-4.5M535.04,246.60v4.5M595.52,464.70v-4.5M595.52,246.60v4.5M353.60,437.44h4.5M656.00,437.44h-4.5M353.60,410.18h4.5M656.00,410.18h-4.5M353.60,382.91h4.5M656.00,382.91h-4.5M353.60,355.65h4.5M656.00,355.65h-4.5M353.60,328.39h4.5M656.00,328.39h-4.5M353.60,301.12h4.5M656.00,301.12h-4.5M353.60,273.86h4.5M656.00,273.86h-4.5" stroke="#363636" stroke-width="1" fill="none"/>
<rect x="353.60" y="246.60" width="302.40" height="218.10" fill="none" stroke="#363636" stroke-width="1.4"/>
<text x="355.20" y="480.70" class="tl" text-anchor="middle">124</text>
<text x="415.68" y="480.70" class="tl" text-anchor="middle">126</text>
<text x="476.16" y="480.70" class="tl" text-anchor="middle">128</text>
<text x="536.64" y="480.70" class="tl" text-anchor="middle">130</text>
<text x="597.12" y="480.70" class="tl" text-anchor="middle">132</text>
<text x="657.60" y="480.70" class="tl" text-anchor="middle">134</text>
<text x="357.80" y="263.80" class="pl">(D)</text>
<path d="M103.78,707.50v-4.5M103.78,489.20v4.5M164.26,707.50v-4.5M164.26,489.20v4.5M224.74,707.50v-4.5M224.74,489.20v4.5M285.22,707.50v-4.5M285.22,489.20v4.5M43.30,680.21h4.5M345.70,680.21h-4.5M43.30,652.92h4.5M345.70,652.92h-4.5M43.30,625.64h4.5M345.70,625.64h-4.5M43.30,598.35h4.5M345.70,598.35h-4.5M43.30,571.06h4.5M345.70,571.06h-4.5M43.30,543.77h4.5M345.70,543.77h-4.5M43.30,516.49h4.5M345.70,516.49h-4.5" stroke="#363636" stroke-width="1" fill="none"/>
<rect x="43.30" y="489.20" width="302.40" height="218.30" fill="none" stroke="#363636" stroke-width="1.4"/>
<text x="44.90" y="723.50" class="tl" text-anchor="middle">134</text>
<text x="105.38" y="723.50" class="tl" text-anchor="middle">136</text>
<text x="165.86" y="723.50" class="tl" text-anchor="middle">138</text>
<text x="226.34" y="723.50" class="tl" text-anchor="middle">140</text>
<text x="286.82" y="723.50" class="tl" text-anchor="middle">142</text>
<text x="35.6" y="711.40" class="tl" text-anchor="end">0</text>
<text x="35.6" y="684.11" class="tl" text-anchor="end">2</text>
<text x="35.6" y="656.82" class="tl" text-anchor="end">4</text>
<text x="35.6" y="629.54" class="tl" text-anchor="end">6</text>
<text x="35.6" y="602.25" class="tl" text-anchor="end">8</text>
<text x="35.6" y="574.96" class="tl" text-anchor="end">10</text>
<text x="35.6" y="547.67" class="tl" text-anchor="end">12</text>
<text x="35.6" y="520.39" class="tl" text-anchor="end">14</text>
<text x="35.6" y="493.10" class="tl" text-anchor="end">16</text>
<text x="47.50" y="506.40" class="pl">(E)</text>
<path d="M414.08,707.50v-4.5M414.08,489.20v4.5M474.56,707.50v-4.5M474.56,489.20v4.5M535.04,707.50v-4.5M535.04,489.20v4.5M595.52,707.50v-4.5M595.52,489.20v4.5M353.60,680.21h4.5M656.00,680.21h-4.5M353.60,652.92h4.5M656.00,652.92h-4.5M353.60,625.64h4.5M656.00,625.64h-4.5M353.60,598.35h4.5M656.00,598.35h-4.5M353.60,571.06h4.5M656.00,571.06h-4.5M353.60,543.77h4.5M656.00,543.77h-4.5M353.60,516.49h4.5M656.00,516.49h-4.5" stroke="#363636" stroke-width="1" fill="none"/>
<rect x="353.60" y="489.20" width="302.40" height="218.30" fill="none" stroke="#363636" stroke-width="1.4"/>
<text x="355.20" y="723.50" class="tl" text-anchor="middle">144</text>
<text x="415.68" y="723.50" class="tl" text-anchor="middle">146</text>
<text x="476.16" y="723.50" class="tl" text-anchor="middle">148</text>
<text x="536.64" y="723.50" class="tl" text-anchor="middle">150</text>
<text x="597.12" y="723.50" class="tl" text-anchor="middle">152</text>
<text x="657.60" y="723.50" class="tl" text-anchor="middle">154</text>
<text x="357.80" y="506.40" class="pl">(F)</text>
<text x="303.5" y="54.3" class="gk">&#945;</text>
<text x="268.2" y="300.3" class="gk">&#946;</text>
<text x="67" y="539" class="gk">&#947;</text>
<text x="116.5" y="540" class="gk">&#963;</text>
<text x="350.5" y="739.4" class="al xl" text-anchor="middle">Time [<tspan font-style="italic">&#956;</tspan>s]</text>
<text transform="translate(16,355.9) rotate(-90)" class="al yl" text-anchor="middle">RMSD, mRMSD [&#197;]</text>
</svg>
</body></html>
